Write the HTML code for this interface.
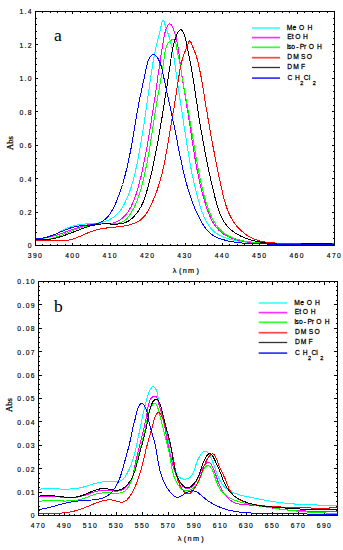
<!DOCTYPE html>
<html><head><meta charset="utf-8"><style>
html,body{margin:0;padding:0;background:#fff;width:343px;height:550px;overflow:hidden}
svg{display:block}
.t{font-family:"Liberation Sans", sans-serif;font-size:7.3px;letter-spacing:0.85px;fill:#000;stroke:#000;stroke-width:0.2px}
.lg{font-family:"Liberation Sans", sans-serif;font-size:7.3px;fill:#000;stroke:#000;stroke-width:0.25px}
.n{font-family:"Liberation Sans", sans-serif;font-size:8px;letter-spacing:1.6px;fill:#000;stroke:#000;stroke-width:0.18px}
.ab{font-family:"Liberation Serif", serif;font-size:8.7px;fill:#000;stroke:#000;stroke-width:0.25px}
.big{font-family:"Liberation Serif", serif;font-size:17.5px;fill:#000}
</style></head><body>
<svg width="343" height="550" viewBox="0 0 343 550">
<path d="M35.5,245 v-2 M35.5,12 v2 M42.5,245 v-1 M42.5,12 v1 M50.5,245 v-1 M50.5,12 v1 M57.5,245 v-1 M57.5,12 v1 M65.5,245 v-1 M65.5,12 v1 M72.5,245 v-2 M72.5,12 v2 M80.5,245 v-1 M80.5,12 v1 M87.5,245 v-1 M87.5,12 v1 M95.5,245 v-1 M95.5,12 v1 M102.5,245 v-1 M102.5,12 v1 M110.5,245 v-2 M110.5,12 v2 M117.5,245 v-1 M117.5,12 v1 M125.5,245 v-1 M125.5,12 v1 M132.5,245 v-1 M132.5,12 v1 M140.5,245 v-1 M140.5,12 v1 M147.5,245 v-2 M147.5,12 v2 M155.5,245 v-1 M155.5,12 v1 M162.5,245 v-1 M162.5,12 v1 M170.5,245 v-1 M170.5,12 v1 M177.5,245 v-1 M177.5,12 v1 M185.5,245 v-2 M185.5,12 v2 M192.5,245 v-1 M192.5,12 v1 M199.5,245 v-1 M199.5,12 v1 M207.5,245 v-1 M207.5,12 v1 M214.5,245 v-1 M214.5,12 v1 M222.5,245 v-2 M222.5,12 v2 M229.5,245 v-1 M229.5,12 v1 M237.5,245 v-1 M237.5,12 v1 M244.5,245 v-1 M244.5,12 v1 M252.5,245 v-1 M252.5,12 v1 M259.5,245 v-2 M259.5,12 v2 M267.5,245 v-1 M267.5,12 v1 M274.5,245 v-1 M274.5,12 v1 M282.5,245 v-1 M282.5,12 v1 M289.5,245 v-1 M289.5,12 v1 M297.5,245 v-2 M297.5,12 v2 M304.5,245 v-1 M304.5,12 v1 M312.5,245 v-1 M312.5,12 v1 M319.5,245 v-1 M319.5,12 v1 M327.5,245 v-1 M327.5,12 v1 M334.5,245 v-2 M334.5,12 v2 M36,245.5 h2 M334,245.5 h-2 M36,238.5 h1 M334,238.5 h-1 M36,232.5 h1 M334,232.5 h-1 M36,225.5 h1 M334,225.5 h-1 M36,218.5 h1 M334,218.5 h-1 M36,212.5 h2 M334,212.5 h-2 M36,205.5 h1 M334,205.5 h-1 M36,198.5 h1 M334,198.5 h-1 M36,192.5 h1 M334,192.5 h-1 M36,185.5 h1 M334,185.5 h-1 M36,178.5 h2 M334,178.5 h-2 M36,171.5 h1 M334,171.5 h-1 M36,165.5 h1 M334,165.5 h-1 M36,158.5 h1 M334,158.5 h-1 M36,151.5 h1 M334,151.5 h-1 M36,145.5 h2 M334,145.5 h-2 M36,138.5 h1 M334,138.5 h-1 M36,131.5 h1 M334,131.5 h-1 M36,125.5 h1 M334,125.5 h-1 M36,118.5 h1 M334,118.5 h-1 M36,111.5 h2 M334,111.5 h-2 M36,105.5 h1 M334,105.5 h-1 M36,98.5 h1 M334,98.5 h-1 M36,91.5 h1 M334,91.5 h-1 M36,85.5 h1 M334,85.5 h-1 M36,78.5 h2 M334,78.5 h-2 M36,71.5 h1 M334,71.5 h-1 M36,64.5 h1 M334,64.5 h-1 M36,58.5 h1 M334,58.5 h-1 M36,51.5 h1 M334,51.5 h-1 M36,44.5 h2 M334,44.5 h-2 M36,38.5 h1 M334,38.5 h-1 M36,31.5 h1 M334,31.5 h-1 M36,24.5 h1 M334,24.5 h-1 M36,18.5 h1 M334,18.5 h-1 M36,11.5 h2 M334,11.5 h-2" stroke="#000" stroke-width="1" fill="none" shape-rendering="crispEdges"/>
<path d="M38.5,515 v-3 M38.5,282 v3 M43.5,515 v-1 M43.5,282 v1 M48.5,515 v-1 M48.5,282 v1 M54.5,515 v-1 M54.5,282 v1 M59.5,515 v-1 M59.5,282 v1 M64.5,515 v-3 M64.5,282 v3 M69.5,515 v-1 M69.5,282 v1 M74.5,515 v-1 M74.5,282 v1 M80.5,515 v-1 M80.5,282 v1 M85.5,515 v-1 M85.5,282 v1 M90.5,515 v-3 M90.5,282 v3 M95.5,515 v-1 M95.5,282 v1 M100.5,515 v-1 M100.5,282 v1 M106.5,515 v-1 M106.5,282 v1 M111.5,515 v-1 M111.5,282 v1 M116.5,515 v-3 M116.5,282 v3 M121.5,515 v-1 M121.5,282 v1 M126.5,515 v-1 M126.5,282 v1 M132.5,515 v-1 M132.5,282 v1 M137.5,515 v-1 M137.5,282 v1 M142.5,515 v-3 M142.5,282 v3 M147.5,515 v-1 M147.5,282 v1 M152.5,515 v-1 M152.5,282 v1 M158.5,515 v-1 M158.5,282 v1 M163.5,515 v-1 M163.5,282 v1 M168.5,515 v-3 M168.5,282 v3 M173.5,515 v-1 M173.5,282 v1 M178.5,515 v-1 M178.5,282 v1 M184.5,515 v-1 M184.5,282 v1 M189.5,515 v-1 M189.5,282 v1 M194.5,515 v-3 M194.5,282 v3 M199.5,515 v-1 M199.5,282 v1 M204.5,515 v-1 M204.5,282 v1 M210.5,515 v-1 M210.5,282 v1 M215.5,515 v-1 M215.5,282 v1 M220.5,515 v-3 M220.5,282 v3 M225.5,515 v-1 M225.5,282 v1 M230.5,515 v-1 M230.5,282 v1 M236.5,515 v-1 M236.5,282 v1 M241.5,515 v-1 M241.5,282 v1 M246.5,515 v-3 M246.5,282 v3 M251.5,515 v-1 M251.5,282 v1 M256.5,515 v-1 M256.5,282 v1 M262.5,515 v-1 M262.5,282 v1 M267.5,515 v-1 M267.5,282 v1 M272.5,515 v-3 M272.5,282 v3 M277.5,515 v-1 M277.5,282 v1 M282.5,515 v-1 M282.5,282 v1 M288.5,515 v-1 M288.5,282 v1 M293.5,515 v-1 M293.5,282 v1 M298.5,515 v-3 M298.5,282 v3 M303.5,515 v-1 M303.5,282 v1 M308.5,515 v-1 M308.5,282 v1 M314.5,515 v-1 M314.5,282 v1 M319.5,515 v-1 M319.5,282 v1 M324.5,515 v-3 M324.5,282 v3 M329.5,515 v-1 M329.5,282 v1 M334.5,515 v-1 M334.5,282 v1 M39,515.5 h3 M337,515.5 h-3 M39,510.5 h1 M337,510.5 h-1 M39,506.5 h1 M337,506.5 h-1 M39,501.5 h1 M337,501.5 h-1 M39,496.5 h1 M337,496.5 h-1 M39,492.5 h3 M337,492.5 h-3 M39,487.5 h1 M337,487.5 h-1 M39,482.5 h1 M337,482.5 h-1 M39,478.5 h1 M337,478.5 h-1 M39,473.5 h1 M337,473.5 h-1 M39,468.5 h3 M337,468.5 h-3 M39,464.5 h1 M337,464.5 h-1 M39,459.5 h1 M337,459.5 h-1 M39,454.5 h1 M337,454.5 h-1 M39,449.5 h1 M337,449.5 h-1 M39,445.5 h3 M337,445.5 h-3 M39,440.5 h1 M337,440.5 h-1 M39,435.5 h1 M337,435.5 h-1 M39,431.5 h1 M337,431.5 h-1 M39,426.5 h1 M337,426.5 h-1 M39,421.5 h3 M337,421.5 h-3 M39,417.5 h1 M337,417.5 h-1 M39,412.5 h1 M337,412.5 h-1 M39,407.5 h1 M337,407.5 h-1 M39,403.5 h1 M337,403.5 h-1 M39,398.5 h3 M337,398.5 h-3 M39,393.5 h1 M337,393.5 h-1 M39,389.5 h1 M337,389.5 h-1 M39,384.5 h1 M337,384.5 h-1 M39,379.5 h1 M337,379.5 h-1 M39,375.5 h3 M337,375.5 h-3 M39,370.5 h1 M337,370.5 h-1 M39,365.5 h1 M337,365.5 h-1 M39,361.5 h1 M337,361.5 h-1 M39,356.5 h1 M337,356.5 h-1 M39,351.5 h3 M337,351.5 h-3 M39,347.5 h1 M337,347.5 h-1 M39,342.5 h1 M337,342.5 h-1 M39,337.5 h1 M337,337.5 h-1 M39,332.5 h1 M337,332.5 h-1 M39,328.5 h3 M337,328.5 h-3 M39,323.5 h1 M337,323.5 h-1 M39,318.5 h1 M337,318.5 h-1 M39,314.5 h1 M337,314.5 h-1 M39,309.5 h1 M337,309.5 h-1 M39,304.5 h3 M337,304.5 h-3 M39,300.5 h1 M337,300.5 h-1 M39,295.5 h1 M337,295.5 h-1 M39,290.5 h1 M337,290.5 h-1 M39,286.5 h1 M337,286.5 h-1 M39,281.5 h3 M337,281.5 h-3" stroke="#000" stroke-width="1" fill="none" shape-rendering="crispEdges"/>
<path d="M35.5,237.9 L36.9,238.2 L38.2,238.4 L39.5,238.5 L40.8,238.5 L42.1,238.4 L43.3,238.3 L44.5,238.2 L45.7,237.9 L46.9,237.6 L48.1,237.3 L49.3,236.9 L50.4,236.5 L51.6,236.0 L52.7,235.5 L53.8,235.0 L54.9,234.5 L56.1,233.9 L57.2,233.3 L58.3,232.7 L59.4,232.1 L60.5,231.5 L61.6,230.9 L62.7,230.3 L63.8,229.7 L64.9,229.1 L66.1,228.6 L67.2,228.0 L68.3,227.5 L69.5,227.1 L70.7,226.6 L71.8,226.2 L73.0,225.9 L74.2,225.5 L75.5,225.3 L76.7,225.0 L77.9,224.8 L79.2,224.6 L80.4,224.4 L81.7,224.3 L82.9,224.2 L84.2,224.1 L85.5,224.0 L86.7,223.9 L88.0,223.8 L89.3,223.7 L90.5,223.6 L91.8,223.5 L93.1,223.5 L94.3,223.4 L95.5,223.2 L96.8,223.1 L98.0,223.0 L99.2,222.8 L100.4,222.6 L101.6,222.4 L102.7,222.1 L103.9,221.8 L105.0,221.5 L106.1,221.1 L107.2,220.7 L108.3,220.2 L109.3,219.7 L110.3,219.2 L111.3,218.6 L112.3,218.0 L113.3,217.4 L114.2,216.7 L115.2,215.9 L116.0,215.2 L116.9,214.3 L117.8,213.5 L118.6,212.6 L119.4,211.6 L120.1,210.6 L120.9,209.6 L121.6,208.5 L122.3,207.4 L122.9,206.3 L123.6,205.2 L124.2,204.0 L124.8,202.8 L125.4,201.7 L125.9,200.5 L126.5,199.3 L127.0,198.2 L127.5,197.0 L128.0,195.8 L128.5,194.7 L128.9,193.5 L129.4,192.3 L129.8,191.1 L130.2,190.0 L130.6,188.8 L131.0,187.6 L131.4,186.4 L131.7,185.2 L132.1,184.1 L132.4,182.9 L132.8,181.7 L133.1,180.5 L133.4,179.3 L133.7,178.1 L134.0,176.9 L134.3,175.8 L134.6,174.6 L134.9,173.4 L135.2,172.2 L135.4,171.0 L135.7,169.8 L136.0,168.6 L136.2,167.4 L136.5,166.2 L136.7,165.0 L137.0,163.8 L137.2,162.6 L137.5,161.3 L137.7,160.1 L138.0,158.9 L138.2,157.7 L138.4,156.5 L138.7,155.3 L138.9,154.1 L139.1,152.8 L139.4,151.6 L139.6,150.4 L139.8,149.2 L140.0,147.9 L140.2,146.7 L140.5,145.5 L140.7,144.3 L140.9,143.0 L141.1,141.8 L141.3,140.6 L141.5,139.3 L141.7,138.1 L141.9,136.9 L142.1,135.6 L142.3,134.4 L142.5,133.2 L142.7,131.9 L142.9,130.7 L143.1,129.5 L143.3,128.2 L143.5,127.0 L143.7,125.7 L143.9,124.5 L144.1,123.3 L144.2,122.0 L144.4,120.8 L144.6,119.5 L144.8,118.3 L145.0,117.0 L145.2,115.8 L145.3,114.6 L145.5,113.3 L145.7,112.1 L145.9,110.8 L146.1,109.6 L146.2,108.3 L146.4,107.1 L146.6,105.9 L146.8,104.6 L146.9,103.4 L147.1,102.1 L147.3,100.9 L147.5,99.6 L147.7,98.4 L147.8,97.2 L148.0,95.9 L148.2,94.7 L148.4,93.4 L148.5,92.2 L148.7,90.9 L148.9,89.7 L149.1,88.5 L149.2,87.2 L149.4,86.0 L149.6,84.8 L149.8,83.5 L150.0,82.3 L150.1,81.0 L150.3,79.8 L150.5,78.6 L150.7,77.3 L150.9,76.1 L151.0,74.9 L151.2,73.7 L151.4,72.4 L151.6,71.2 L151.8,70.0 L152.0,68.7 L152.2,67.5 L152.4,66.3 L152.6,65.1 L152.8,63.8 L153.0,62.6 L153.2,61.4 L153.5,60.2 L153.7,59.0 L153.9,57.7 L154.1,56.5 L154.4,55.3 L154.6,54.1 L154.8,52.9 L155.1,51.7 L155.3,50.5 L155.6,49.3 L155.9,48.0 L156.1,46.8 L156.4,45.6 L156.7,44.4 L156.9,43.2 L157.2,42.0 L157.5,40.8 L157.8,39.6 L158.1,38.4 L158.4,37.2 L158.8,36.0 L159.1,34.7 L159.4,33.4 L159.7,32.1 L160.0,30.8 L160.4,29.4 L160.7,28.0 L161.0,26.6 L161.3,25.0 L161.7,23.6 L162.0,22.2 L162.3,21.1 L162.7,20.3 L163.0,19.9 L163.4,20.1 L163.8,20.8 L164.2,21.8 L164.6,23.0 L165.0,24.5 L165.5,25.9 L165.9,27.4 L166.4,28.7 L166.8,30.1 L167.2,31.3 L167.7,32.6 L168.1,33.8 L168.5,35.0 L168.9,36.2 L169.3,37.4 L169.7,38.7 L170.0,39.9 L170.4,41.1 L170.7,42.3 L171.0,43.5 L171.3,44.7 L171.6,45.9 L171.9,47.1 L172.1,48.3 L172.4,49.6 L172.7,50.8 L172.9,52.0 L173.1,53.2 L173.4,54.4 L173.6,55.6 L173.8,56.8 L174.0,58.0 L174.2,59.3 L174.4,60.5 L174.6,61.7 L174.8,62.9 L174.9,64.1 L175.1,65.4 L175.3,66.6 L175.4,67.8 L175.6,69.1 L175.8,70.3 L175.9,71.5 L176.1,72.7 L176.3,74.0 L176.4,75.2 L176.6,76.5 L176.8,77.7 L177.0,78.9 L177.1,80.2 L177.3,81.4 L177.5,82.7 L177.7,83.9 L177.8,85.1 L178.0,86.4 L178.2,87.6 L178.4,88.9 L178.6,90.1 L178.8,91.4 L179.0,92.6 L179.2,93.8 L179.3,95.1 L179.5,96.3 L179.7,97.6 L179.9,98.8 L180.1,100.1 L180.3,101.3 L180.5,102.6 L180.7,103.8 L180.9,105.1 L181.1,106.3 L181.3,107.6 L181.5,108.8 L181.7,110.0 L181.9,111.3 L182.1,112.5 L182.3,113.8 L182.4,115.0 L182.6,116.2 L182.8,117.5 L183.0,118.7 L183.2,119.9 L183.4,121.2 L183.6,122.4 L183.8,123.6 L183.9,124.9 L184.1,126.1 L184.3,127.3 L184.5,128.6 L184.7,129.8 L184.9,131.0 L185.0,132.3 L185.2,133.5 L185.4,134.7 L185.6,135.9 L185.8,137.2 L186.0,138.4 L186.2,139.6 L186.3,140.8 L186.5,142.0 L186.7,143.3 L186.9,144.5 L187.1,145.7 L187.3,146.9 L187.5,148.1 L187.7,149.4 L187.9,150.6 L188.1,151.8 L188.3,153.0 L188.5,154.2 L188.7,155.5 L188.9,156.7 L189.1,157.9 L189.3,159.1 L189.5,160.3 L189.7,161.6 L189.9,162.8 L190.2,164.0 L190.4,165.2 L190.6,166.4 L190.8,167.7 L191.1,168.9 L191.3,170.1 L191.5,171.3 L191.8,172.5 L192.0,173.8 L192.3,175.0 L192.5,176.2 L192.8,177.4 L193.1,178.7 L193.3,179.9 L193.6,181.1 L193.9,182.3 L194.1,183.6 L194.4,184.8 L194.7,186.0 L195.0,187.2 L195.3,188.5 L195.6,189.7 L195.9,190.9 L196.2,192.2 L196.5,193.4 L196.9,194.6 L197.2,195.9 L197.5,197.1 L197.9,198.3 L198.2,199.6 L198.6,200.8 L198.9,202.0 L199.3,203.3 L199.7,204.5 L200.0,205.8 L200.4,207.0 L200.8,208.2 L201.2,209.5 L201.6,210.7 L202.1,211.9 L202.5,213.1 L203.0,214.3 L203.5,215.5 L204.0,216.6 L204.5,217.8 L205.0,218.9 L205.5,220.0 L206.1,221.1 L206.7,222.2 L207.3,223.2 L208.0,224.2 L208.6,225.2 L209.3,226.2 L210.0,227.2 L210.8,228.1 L211.5,229.0 L212.3,229.8 L213.1,230.6 L214.0,231.4 L214.9,232.2 L215.8,232.9 L216.8,233.6 L217.7,234.2 L218.8,234.8 L219.8,235.4 L220.9,235.9 L221.9,236.5 L223.0,236.9 L224.2,237.4 L225.3,237.8 L226.5,238.2 L227.7,238.6 L228.9,239.0 L230.1,239.3 L231.3,239.7 L232.5,239.9 L233.8,240.2 L235.0,240.5 L236.3,240.7 L237.6,241.0 L238.9,241.2 L240.1,241.4 L241.4,241.6 L242.7,241.7 L244.0,241.9 L245.3,242.0 L246.6,242.2 L247.9,242.3 L249.2,242.4 L250.4,242.6 L251.7,242.7 L253.0,242.8 L254.3,242.9 L255.5,243.0 L256.8,243.1 L258.1,243.1 L259.3,243.2 L260.6,243.3 L261.8,243.3 L263.1,243.4 L264.3,243.5 L265.6,243.5 L266.8,243.5 L268.1,243.6 L269.3,243.6 L270.6,243.6 L271.8,243.7 L273.1,243.7 L274.3,243.7 L275.5,243.7 L276.8,243.7 L278.0,243.7 L279.2,243.7 L280.5,243.7 L281.7,243.7 L282.9,243.7 L284.2,243.7 L285.4,243.7 L286.6,243.7 L287.9,243.7 L289.1,243.7 L290.3,243.6 L291.6,243.6 L292.8,243.6 L294.0,243.6 L295.2,243.6 L296.5,243.5 L297.7,243.5 L298.9,243.5 L300.2,243.5 L301.4,243.4 L302.6,243.4 L303.9,243.4 L305.1,243.4 L306.3,243.4 L307.6,243.4 L308.8,243.3 L310.1,243.3 L311.3,243.3 L312.5,243.3 L313.8,243.3 L315.0,243.3 L316.3,243.3 L317.5,243.3 L318.8,243.3 L320.0,243.3 L321.3,243.3 L322.6,243.3 L323.8,243.3 L325.1,243.3 L326.3,243.4 L327.6,243.4 L328.9,243.4 L330.2,243.5 L331.4,243.5 L332.7,243.5 L334.0,243.6" stroke="#00ffff" stroke-width="1" fill="none" shape-rendering="crispEdges"/>
<path d="M38.5,489.2 L39.7,489.1 L41.0,489.0 L42.2,488.9 L43.5,488.8 L44.7,488.8 L45.9,488.8 L47.2,488.7 L48.4,488.7 L49.7,488.7 L50.9,488.7 L52.2,488.8 L53.4,488.8 L54.7,488.8 L56.0,488.9 L57.2,488.9 L58.5,488.9 L59.7,489.0 L61.0,489.0 L62.2,489.0 L63.5,489.0 L64.7,489.0 L66.0,489.0 L67.2,489.0 L68.4,489.0 L69.7,489.0 L70.9,488.9 L72.1,488.8 L73.4,488.7 L74.6,488.6 L75.8,488.5 L77.1,488.3 L78.3,488.1 L79.5,487.9 L80.7,487.7 L81.9,487.4 L83.1,487.1 L84.3,486.8 L85.5,486.5 L86.7,486.1 L87.8,485.7 L89.0,485.4 L90.2,485.0 L91.4,484.6 L92.6,484.2 L93.8,483.9 L95.0,483.5 L96.2,483.2 L97.4,482.9 L98.6,482.6 L99.8,482.3 L101.0,482.1 L102.2,481.9 L103.4,481.7 L104.6,481.6 L105.9,481.5 L107.1,481.5 L108.4,481.5 L109.6,481.6 L110.9,481.6 L112.1,481.7 L113.3,481.8 L114.5,481.8 L115.7,481.8 L116.9,481.7 L118.0,481.5 L119.1,481.3 L120.2,480.9 L121.2,480.5 L122.1,479.9 L123.0,479.1 L123.9,478.2 L124.7,477.3 L125.4,476.2 L126.1,475.1 L126.8,473.9 L127.5,472.7 L128.1,471.4 L128.7,470.2 L129.2,469.0 L129.8,467.7 L130.3,466.5 L130.8,465.3 L131.2,464.1 L131.7,462.9 L132.1,461.7 L132.5,460.5 L132.9,459.3 L133.3,458.1 L133.6,456.9 L134.0,455.7 L134.3,454.5 L134.6,453.3 L134.9,452.2 L135.2,451.0 L135.5,449.8 L135.8,448.6 L136.1,447.5 L136.3,446.3 L136.6,445.1 L136.9,443.9 L137.1,442.7 L137.3,441.5 L137.6,440.4 L137.8,439.2 L138.1,438.0 L138.3,436.8 L138.6,435.6 L138.8,434.4 L139.1,433.1 L139.3,431.9 L139.6,430.7 L139.8,429.5 L140.1,428.3 L140.3,427.1 L140.6,425.8 L140.8,424.6 L141.1,423.4 L141.3,422.2 L141.6,420.9 L141.9,419.7 L142.1,418.5 L142.4,417.2 L142.7,416.0 L142.9,414.8 L143.2,413.5 L143.5,412.3 L143.8,411.1 L144.1,409.8 L144.3,408.6 L144.6,407.4 L144.9,406.1 L145.2,404.9 L145.5,403.7 L145.8,402.4 L146.2,401.2 L146.5,400.0 L146.8,398.7 L147.2,397.5 L147.5,396.3 L147.9,395.0 L148.4,393.8 L148.9,392.6 L149.4,391.4 L150.0,390.2 L150.6,389.0 L151.3,388.0 L152.0,387.2 L152.7,386.7 L153.5,386.7 L154.3,387.0 L155.0,387.8 L155.7,388.7 L156.2,389.9 L156.7,391.3 L157.2,392.8 L157.5,394.3 L157.9,395.8 L158.1,397.3 L158.4,398.7 L158.6,400.0 L158.8,401.3 L159.0,402.5 L159.2,403.7 L159.4,404.9 L159.7,406.0 L159.9,407.2 L160.2,408.4 L160.4,409.6 L160.7,410.7 L161.0,411.9 L161.3,413.1 L161.6,414.3 L161.9,415.5 L162.2,416.7 L162.5,417.9 L162.8,419.1 L163.1,420.4 L163.5,421.6 L163.8,422.8 L164.1,424.0 L164.4,425.3 L164.8,426.5 L165.1,427.7 L165.4,428.9 L165.7,430.2 L166.0,431.4 L166.3,432.6 L166.6,433.9 L166.9,435.1 L167.2,436.3 L167.5,437.5 L167.8,438.7 L168.0,439.9 L168.3,441.1 L168.5,442.3 L168.8,443.5 L169.0,444.7 L169.2,445.9 L169.4,447.1 L169.6,448.3 L169.8,449.5 L170.0,450.7 L170.2,451.8 L170.5,453.0 L170.7,454.2 L170.9,455.4 L171.2,456.7 L171.4,457.9 L171.7,459.1 L172.0,460.4 L172.3,461.6 L172.6,462.9 L173.0,464.2 L173.3,465.5 L173.7,466.8 L174.2,468.1 L174.6,469.4 L175.1,470.6 L175.7,471.8 L176.2,473.0 L176.9,474.1 L177.6,475.2 L178.3,476.1 L179.1,476.9 L180.0,477.6 L180.9,478.2 L182.0,478.7 L183.0,479.0 L184.1,479.2 L185.2,479.2 L186.3,479.0 L187.4,478.8 L188.4,478.3 L189.4,477.8 L190.3,477.1 L191.1,476.2 L191.8,475.2 L192.4,474.2 L193.0,473.0 L193.6,471.8 L194.1,470.5 L194.5,469.2 L195.0,467.9 L195.4,466.5 L195.8,465.2 L196.2,463.9 L196.7,462.7 L197.1,461.5 L197.6,460.3 L198.1,459.2 L198.7,458.0 L199.3,456.9 L200.0,455.8 L200.7,454.7 L201.5,453.7 L202.3,452.8 L203.2,452.0 L204.1,451.4 L205.0,451.1 L205.8,451.1 L206.7,451.5 L207.4,452.1 L208.2,453.0 L208.9,454.0 L209.6,455.0 L210.2,456.1 L210.8,457.2 L211.3,458.3 L211.8,459.5 L212.3,460.6 L212.8,461.8 L213.2,463.0 L213.7,464.2 L214.1,465.5 L214.5,466.7 L215.0,467.9 L215.4,469.2 L215.8,470.4 L216.3,471.7 L216.7,472.9 L217.2,474.1 L217.6,475.3 L218.1,476.5 L218.6,477.7 L219.1,478.8 L219.7,480.0 L220.3,481.1 L220.9,482.1 L221.5,483.2 L222.2,484.2 L222.9,485.1 L223.6,486.0 L224.4,486.9 L225.2,487.7 L226.1,488.5 L227.0,489.2 L228.0,489.9 L228.9,490.5 L230.0,491.1 L231.0,491.7 L232.1,492.2 L233.2,492.7 L234.3,493.2 L235.5,493.6 L236.6,494.0 L237.8,494.4 L239.1,494.8 L240.3,495.1 L241.5,495.4 L242.8,495.7 L244.0,496.0 L245.3,496.3 L246.6,496.6 L247.8,496.8 L249.1,497.1 L250.4,497.3 L251.6,497.6 L252.9,497.8 L254.1,498.0 L255.4,498.3 L256.6,498.5 L257.8,498.8 L259.1,499.0 L260.3,499.2 L261.5,499.5 L262.7,499.7 L264.0,499.9 L265.2,500.2 L266.4,500.4 L267.6,500.6 L268.8,500.8 L270.0,501.0 L271.2,501.2 L272.4,501.4 L273.6,501.6 L274.8,501.8 L276.1,502.0 L277.3,502.2 L278.5,502.3 L279.7,502.5 L280.9,502.6 L282.1,502.8 L283.4,502.9 L284.6,503.1 L285.8,503.2 L287.1,503.3 L288.3,503.4 L289.6,503.6 L290.8,503.7 L292.0,503.8 L293.3,503.9 L294.5,504.0 L295.8,504.0 L297.0,504.1 L298.3,504.2 L299.5,504.3 L300.8,504.4 L302.1,504.4 L303.3,504.5 L304.6,504.5 L305.8,504.6 L307.1,504.6 L308.3,504.7 L309.6,504.7 L310.8,504.8 L312.1,504.8 L313.4,504.9 L314.6,504.9 L315.9,504.9 L317.1,505.0 L318.4,505.0 L319.6,505.0 L320.9,505.1 L322.1,505.1 L323.4,505.1 L324.6,505.1 L325.9,505.2 L327.1,505.2 L328.4,505.2 L329.6,505.2 L330.8,505.3 L332.1,505.3 L333.3,505.3 L334.5,505.3 L335.8,505.4 L337.0,505.4" stroke="#00ffff" stroke-width="1" fill="none" shape-rendering="crispEdges"/>
<path d="M35.5,238.5 L36.8,238.5 L38.0,238.5 L39.3,238.4 L40.5,238.3 L41.8,238.2 L43.0,238.1 L44.2,237.9 L45.5,237.7 L46.7,237.5 L47.9,237.3 L49.1,237.0 L50.3,236.8 L51.6,236.5 L52.8,236.1 L54.0,235.8 L55.2,235.5 L56.4,235.1 L57.6,234.7 L58.7,234.4 L59.9,234.0 L61.1,233.6 L62.3,233.2 L63.5,232.7 L64.7,232.3 L65.8,231.9 L67.0,231.5 L68.2,231.0 L69.4,230.6 L70.5,230.2 L71.7,229.8 L72.9,229.3 L74.0,228.9 L75.2,228.5 L76.4,228.1 L77.5,227.7 L78.7,227.3 L79.9,227.0 L81.0,226.6 L82.2,226.2 L83.4,225.9 L84.6,225.6 L85.8,225.3 L87.0,225.1 L88.2,224.8 L89.4,224.6 L90.7,224.4 L91.9,224.2 L93.1,224.1 L94.4,224.0 L95.7,223.9 L96.9,223.8 L98.2,223.8 L99.5,223.8 L100.8,223.8 L102.1,223.8 L103.4,223.8 L104.7,223.8 L106.0,223.8 L107.3,223.8 L108.5,223.7 L109.8,223.6 L111.0,223.4 L112.2,223.2 L113.4,222.9 L114.6,222.6 L115.7,222.2 L116.8,221.7 L117.9,221.1 L118.9,220.6 L120.0,219.9 L121.0,219.2 L121.9,218.5 L122.8,217.7 L123.7,216.8 L124.6,216.0 L125.5,215.1 L126.3,214.1 L127.0,213.1 L127.8,212.1 L128.5,211.1 L129.1,210.0 L129.8,208.9 L130.4,207.8 L131.0,206.7 L131.5,205.6 L132.1,204.4 L132.6,203.2 L133.1,202.1 L133.6,200.9 L134.0,199.7 L134.5,198.6 L134.9,197.4 L135.4,196.2 L135.8,195.0 L136.2,193.9 L136.6,192.7 L136.9,191.5 L137.3,190.3 L137.7,189.1 L138.0,188.0 L138.4,186.8 L138.7,185.6 L139.0,184.4 L139.3,183.2 L139.6,182.0 L139.9,180.8 L140.2,179.7 L140.5,178.5 L140.8,177.3 L141.1,176.1 L141.4,174.9 L141.6,173.7 L141.9,172.5 L142.2,171.3 L142.4,170.1 L142.7,168.9 L142.9,167.7 L143.2,166.4 L143.4,165.2 L143.7,164.0 L143.9,162.8 L144.2,161.6 L144.4,160.4 L144.7,159.1 L144.9,157.9 L145.1,156.7 L145.4,155.5 L145.6,154.2 L145.8,153.0 L146.1,151.8 L146.3,150.6 L146.5,149.3 L146.7,148.1 L147.0,146.9 L147.2,145.6 L147.4,144.4 L147.6,143.1 L147.9,141.9 L148.1,140.7 L148.3,139.4 L148.5,138.2 L148.7,136.9 L148.9,135.7 L149.1,134.5 L149.3,133.2 L149.5,132.0 L149.8,130.7 L150.0,129.5 L150.2,128.3 L150.4,127.0 L150.6,125.8 L150.8,124.5 L151.0,123.3 L151.2,122.0 L151.4,120.8 L151.6,119.6 L151.7,118.3 L151.9,117.1 L152.1,115.8 L152.3,114.6 L152.5,113.3 L152.7,112.1 L152.9,110.9 L153.1,109.6 L153.3,108.4 L153.4,107.2 L153.6,105.9 L153.8,104.7 L154.0,103.5 L154.2,102.2 L154.4,101.0 L154.5,99.8 L154.7,98.5 L154.9,97.3 L155.1,96.1 L155.3,94.9 L155.4,93.6 L155.6,92.4 L155.8,91.2 L156.0,90.0 L156.1,88.8 L156.3,87.5 L156.5,86.3 L156.7,85.1 L156.8,83.9 L157.0,82.7 L157.2,81.5 L157.4,80.3 L157.5,79.1 L157.7,77.9 L157.9,76.7 L158.0,75.5 L158.2,74.3 L158.4,73.1 L158.6,71.9 L158.7,70.6 L158.9,69.4 L159.1,68.2 L159.3,67.0 L159.5,65.8 L159.6,64.6 L159.8,63.3 L160.0,62.1 L160.2,60.9 L160.4,59.6 L160.6,58.4 L160.8,57.1 L160.9,55.9 L161.1,54.6 L161.3,53.3 L161.5,52.1 L161.7,50.8 L161.9,49.5 L162.1,48.2 L162.4,46.9 L162.6,45.6 L162.8,44.3 L163.0,42.9 L163.2,41.6 L163.5,40.2 L163.7,38.9 L163.9,37.5 L164.2,36.1 L164.5,34.8 L164.8,33.5 L165.1,32.1 L165.5,30.9 L165.9,29.6 L166.4,28.4 L166.9,27.2 L167.4,26.1 L168.0,25.2 L168.6,24.5 L169.2,24.0 L169.9,23.9 L170.5,24.1 L171.1,24.6 L171.7,25.4 L172.3,26.4 L172.8,27.5 L173.4,28.9 L173.9,30.3 L174.4,31.8 L174.8,33.3 L175.3,34.8 L175.7,36.3 L176.1,37.8 L176.4,39.1 L176.7,40.5 L177.0,41.8 L177.3,43.2 L177.6,44.4 L177.8,45.7 L178.0,46.9 L178.2,48.1 L178.4,49.3 L178.6,50.5 L178.7,51.7 L178.9,52.9 L179.0,54.0 L179.2,55.2 L179.3,56.3 L179.5,57.5 L179.6,58.7 L179.7,59.9 L179.9,61.1 L180.1,62.3 L180.2,63.5 L180.4,64.7 L180.5,65.9 L180.7,67.1 L180.9,68.4 L181.0,69.6 L181.2,70.9 L181.4,72.1 L181.6,73.3 L181.7,74.6 L181.9,75.8 L182.1,77.1 L182.3,78.3 L182.5,79.6 L182.7,80.8 L182.9,82.1 L183.1,83.3 L183.3,84.6 L183.5,85.8 L183.7,87.1 L183.9,88.3 L184.1,89.5 L184.3,90.8 L184.5,92.0 L184.7,93.3 L184.9,94.5 L185.1,95.8 L185.3,97.0 L185.5,98.2 L185.7,99.5 L185.9,100.7 L186.1,102.0 L186.3,103.2 L186.5,104.5 L186.7,105.7 L186.9,106.9 L187.1,108.2 L187.4,109.4 L187.6,110.6 L187.8,111.9 L188.0,113.1 L188.2,114.3 L188.4,115.6 L188.6,116.8 L188.8,118.0 L188.9,119.3 L189.1,120.5 L189.3,121.7 L189.5,123.0 L189.7,124.2 L189.9,125.4 L190.1,126.6 L190.3,127.9 L190.5,129.1 L190.6,130.3 L190.8,131.5 L191.0,132.8 L191.2,134.0 L191.4,135.2 L191.6,136.4 L191.8,137.7 L191.9,138.9 L192.1,140.1 L192.3,141.3 L192.5,142.5 L192.7,143.8 L192.9,145.0 L193.1,146.2 L193.3,147.4 L193.4,148.7 L193.6,149.9 L193.8,151.1 L194.0,152.3 L194.2,153.5 L194.4,154.7 L194.6,156.0 L194.8,157.2 L195.0,158.4 L195.3,159.6 L195.5,160.8 L195.7,162.1 L195.9,163.3 L196.1,164.5 L196.3,165.7 L196.6,166.9 L196.8,168.2 L197.0,169.4 L197.3,170.6 L197.5,171.8 L197.7,173.0 L198.0,174.3 L198.2,175.5 L198.5,176.7 L198.8,177.9 L199.0,179.1 L199.3,180.4 L199.6,181.6 L199.8,182.8 L200.1,184.0 L200.4,185.3 L200.7,186.5 L201.0,187.7 L201.3,188.9 L201.6,190.2 L201.9,191.4 L202.2,192.6 L202.6,193.8 L202.9,195.1 L203.2,196.3 L203.6,197.5 L203.9,198.8 L204.3,200.0 L204.6,201.2 L205.0,202.5 L205.4,203.7 L205.8,204.9 L206.1,206.2 L206.5,207.4 L207.0,208.6 L207.4,209.8 L207.8,211.0 L208.3,212.2 L208.7,213.4 L209.2,214.6 L209.7,215.8 L210.2,216.9 L210.7,218.1 L211.3,219.2 L211.8,220.3 L212.4,221.4 L213.0,222.4 L213.7,223.5 L214.3,224.5 L215.0,225.5 L215.7,226.5 L216.4,227.4 L217.2,228.3 L218.0,229.2 L218.8,230.1 L219.6,230.9 L220.5,231.7 L221.4,232.4 L222.4,233.1 L223.3,233.8 L224.3,234.5 L225.3,235.1 L226.4,235.7 L227.4,236.3 L228.5,236.8 L229.6,237.3 L230.8,237.8 L231.9,238.2 L233.1,238.7 L234.3,239.1 L235.5,239.4 L236.7,239.8 L237.9,240.1 L239.1,240.5 L240.4,240.7 L241.6,241.0 L242.9,241.3 L244.1,241.5 L245.4,241.7 L246.7,241.9 L247.9,242.1 L249.2,242.3 L250.5,242.5 L251.7,242.6 L253.0,242.7 L254.3,242.8 L255.5,243.0 L256.8,243.1 L258.0,243.1 L259.3,243.2 L260.5,243.3 L261.8,243.3 L263.0,243.4 L264.3,243.4 L265.5,243.5 L266.8,243.5 L268.0,243.5 L269.2,243.5 L270.5,243.5 L271.7,243.5 L272.9,243.5 L274.2,243.5 L275.4,243.5 L276.6,243.5 L277.9,243.5 L279.1,243.5 L280.4,243.5 L281.6,243.5 L282.8,243.4 L284.1,243.4 L285.3,243.4 L286.5,243.4 L287.8,243.4 L289.0,243.3 L290.2,243.3 L291.5,243.3 L292.7,243.3 L294.0,243.3 L295.2,243.3 L296.5,243.3 L297.7,243.3 L299.0,243.3 L300.2,243.3 L301.5,243.4 L302.7,243.4 L304.0,243.4 L305.3,243.4 L306.5,243.4 L307.8,243.5 L309.0,243.5 L310.3,243.5 L311.5,243.5 L312.8,243.6 L314.1,243.6 L315.3,243.6 L316.6,243.6 L317.8,243.7 L319.1,243.7 L320.3,243.7 L321.6,243.7 L322.8,243.7 L324.1,243.7 L325.3,243.7 L326.6,243.7 L327.8,243.7 L329.1,243.7 L330.3,243.7 L331.5,243.7 L332.8,243.6 L334.0,243.6" stroke="#ff00ff" stroke-width="1" fill="none" shape-rendering="crispEdges"/>
<path d="M38.5,496.8 L39.7,496.6 L41.0,496.4 L42.2,496.3 L43.4,496.2 L44.7,496.1 L45.9,496.1 L47.2,496.1 L48.4,496.1 L49.7,496.2 L50.9,496.2 L52.2,496.3 L53.4,496.4 L54.7,496.5 L56.0,496.6 L57.2,496.7 L58.5,496.9 L59.8,497.0 L61.0,497.1 L62.3,497.2 L63.5,497.3 L64.8,497.4 L66.0,497.5 L67.3,497.6 L68.6,497.6 L69.8,497.7 L71.0,497.7 L72.3,497.6 L73.5,497.6 L74.8,497.5 L76.0,497.4 L77.2,497.2 L78.4,497.0 L79.6,496.7 L80.8,496.5 L82.0,496.1 L83.2,495.8 L84.4,495.4 L85.6,495.0 L86.8,494.6 L88.0,494.2 L89.2,493.7 L90.4,493.3 L91.5,492.9 L92.7,492.5 L93.9,492.1 L95.1,491.7 L96.3,491.4 L97.5,491.1 L98.7,490.8 L99.9,490.6 L101.1,490.4 L102.3,490.2 L103.5,490.2 L104.8,490.2 L106.0,490.2 L107.3,490.3 L108.5,490.5 L109.7,490.6 L111.0,490.8 L112.2,490.9 L113.5,491.0 L114.7,491.1 L115.9,491.2 L117.1,491.1 L118.3,491.0 L119.5,490.8 L120.7,490.5 L121.8,490.0 L123.0,489.4 L124.1,488.8 L125.1,488.0 L126.1,487.2 L127.0,486.3 L127.9,485.4 L128.7,484.4 L129.4,483.4 L130.1,482.4 L130.7,481.3 L131.2,480.2 L131.7,479.1 L132.1,477.9 L132.5,476.7 L132.9,475.5 L133.2,474.3 L133.5,473.1 L133.8,471.9 L134.0,470.6 L134.3,469.4 L134.5,468.1 L134.7,466.9 L135.0,465.6 L135.2,464.4 L135.4,463.1 L135.7,461.9 L135.9,460.7 L136.2,459.4 L136.5,458.2 L136.7,457.0 L137.0,455.8 L137.3,454.6 L137.6,453.4 L137.9,452.2 L138.2,451.0 L138.5,449.8 L138.8,448.6 L139.1,447.4 L139.4,446.2 L139.7,445.0 L140.0,443.8 L140.3,442.6 L140.6,441.4 L140.9,440.2 L141.2,439.0 L141.5,437.9 L141.9,436.7 L142.2,435.5 L142.5,434.3 L142.8,433.1 L143.1,431.9 L143.4,430.7 L143.6,429.4 L143.9,428.2 L144.2,427.0 L144.5,425.8 L144.8,424.6 L145.0,423.3 L145.3,422.1 L145.6,420.8 L145.8,419.6 L146.1,418.3 L146.3,417.1 L146.5,415.8 L146.7,414.5 L146.9,413.2 L147.2,411.9 L147.3,410.6 L147.5,409.3 L147.7,408.0 L148.0,406.7 L148.2,405.5 L148.5,404.2 L148.9,403.0 L149.3,401.8 L149.8,400.7 L150.4,399.6 L151.1,398.5 L151.9,397.6 L152.8,396.9 L153.6,396.3 L154.5,396.1 L155.3,396.1 L156.1,396.6 L156.7,397.5 L157.3,398.7 L157.9,400.2 L158.4,401.9 L158.8,403.6 L159.2,405.3 L159.7,406.8 L160.1,408.2 L160.5,409.5 L160.9,410.6 L161.3,411.8 L161.6,412.9 L162.0,414.0 L162.3,415.1 L162.6,416.3 L162.9,417.4 L163.1,418.6 L163.4,419.8 L163.6,421.0 L163.9,422.2 L164.1,423.4 L164.3,424.6 L164.5,425.9 L164.8,427.1 L165.0,428.3 L165.2,429.6 L165.4,430.8 L165.6,432.0 L165.9,433.3 L166.1,434.5 L166.3,435.8 L166.5,437.0 L166.8,438.3 L167.0,439.5 L167.2,440.7 L167.5,442.0 L167.7,443.2 L168.0,444.5 L168.2,445.7 L168.5,447.0 L168.7,448.2 L169.0,449.4 L169.3,450.7 L169.5,451.9 L169.8,453.1 L170.1,454.3 L170.3,455.5 L170.6,456.7 L170.9,457.9 L171.2,459.1 L171.5,460.3 L171.8,461.5 L172.1,462.7 L172.4,463.8 L172.8,465.0 L173.1,466.2 L173.4,467.3 L173.8,468.4 L174.1,469.6 L174.5,470.7 L174.9,471.9 L175.4,473.0 L175.8,474.2 L176.3,475.3 L176.8,476.5 L177.4,477.7 L178.0,479.0 L178.7,480.2 L179.4,481.5 L180.2,482.7 L181.0,483.9 L181.8,485.0 L182.6,485.9 L183.5,486.8 L184.4,487.5 L185.4,488.1 L186.3,488.5 L187.3,488.6 L188.3,488.6 L189.3,488.3 L190.3,487.8 L191.3,487.1 L192.2,486.3 L193.2,485.4 L194.0,484.4 L194.9,483.4 L195.6,482.3 L196.4,481.2 L197.0,480.2 L197.5,479.1 L198.1,478.1 L198.5,477.0 L199.0,475.9 L199.5,474.8 L200.0,473.6 L200.5,472.4 L201.1,471.1 L201.8,469.8 L202.4,468.5 L203.1,467.2 L203.8,466.0 L204.6,464.9 L205.3,464.0 L206.1,463.2 L206.8,462.6 L207.6,462.2 L208.3,462.1 L209.0,462.3 L209.7,462.7 L210.4,463.4 L211.1,464.2 L211.7,465.3 L212.3,466.4 L212.9,467.6 L213.5,468.9 L214.1,470.3 L214.6,471.7 L215.1,473.0 L215.5,474.3 L216.0,475.5 L216.4,476.8 L216.8,478.0 L217.2,479.1 L217.6,480.3 L218.0,481.4 L218.4,482.5 L218.9,483.6 L219.3,484.7 L219.8,485.8 L220.3,487.0 L220.9,488.1 L221.4,489.2 L222.0,490.3 L222.7,491.4 L223.3,492.4 L224.0,493.5 L224.8,494.5 L225.5,495.5 L226.3,496.4 L227.1,497.4 L228.0,498.2 L228.9,499.1 L229.8,499.8 L230.8,500.6 L231.8,501.3 L232.8,501.9 L233.9,502.4 L235.0,502.9 L236.1,503.3 L237.3,503.6 L238.5,503.9 L239.7,504.1 L241.0,504.3 L242.2,504.5 L243.5,504.6 L244.8,504.7 L246.0,504.8 L247.3,504.9 L248.6,505.0 L249.9,505.0 L251.2,505.1 L252.5,505.3 L253.7,505.4 L255.0,505.5 L256.2,505.7 L257.5,505.8 L258.7,506.0 L260.0,506.2 L261.2,506.3 L262.5,506.5 L263.7,506.7 L264.9,506.9 L266.1,507.1 L267.4,507.3 L268.6,507.5 L269.8,507.7 L271.0,507.9 L272.2,508.1 L273.5,508.3 L274.7,508.4 L275.9,508.6 L277.1,508.8 L278.4,509.0 L279.6,509.1 L280.8,509.3 L282.1,509.4 L283.3,509.5 L284.5,509.7 L285.8,509.8 L287.0,509.9 L288.3,510.0 L289.5,510.1 L290.7,510.2 L292.0,510.3 L293.2,510.4 L294.5,510.5 L295.7,510.5 L297.0,510.6 L298.2,510.7 L299.5,510.7 L300.7,510.8 L302.0,510.8 L303.3,510.9 L304.5,510.9 L305.8,511.0 L307.0,511.0 L308.3,511.0 L309.5,511.1 L310.8,511.1 L312.0,511.1 L313.3,511.1 L314.6,511.2 L315.8,511.2 L317.1,511.2 L318.3,511.2 L319.6,511.2 L320.8,511.2 L322.1,511.2 L323.3,511.2 L324.6,511.2 L325.8,511.2 L327.1,511.2 L328.3,511.3 L329.6,511.3 L330.8,511.3 L332.0,511.3 L333.3,511.3 L334.5,511.3 L335.8,511.3 L337.0,511.3" stroke="#ff00ff" stroke-width="1" fill="none" shape-rendering="crispEdges"/>
<path d="M35.5,239.5 L36.8,239.7 L38.1,239.8 L39.4,239.9 L40.6,239.9 L41.9,239.9 L43.1,239.8 L44.4,239.8 L45.6,239.6 L46.8,239.4 L48.1,239.2 L49.3,239.0 L50.5,238.7 L51.7,238.4 L52.9,238.1 L54.1,237.7 L55.3,237.4 L56.5,237.0 L57.6,236.5 L58.8,236.1 L60.0,235.7 L61.2,235.2 L62.3,234.8 L63.5,234.3 L64.7,233.8 L65.8,233.4 L67.0,232.9 L68.1,232.4 L69.3,231.9 L70.5,231.5 L71.6,231.0 L72.8,230.6 L73.9,230.1 L75.1,229.7 L76.3,229.3 L77.4,228.9 L78.6,228.5 L79.8,228.1 L80.9,227.7 L82.1,227.4 L83.3,227.0 L84.5,226.7 L85.6,226.4 L86.8,226.1 L88.0,225.8 L89.2,225.6 L90.4,225.3 L91.6,225.1 L92.9,224.8 L94.1,224.6 L95.3,224.5 L96.6,224.3 L97.8,224.2 L99.0,224.0 L100.3,223.9 L101.6,223.8 L102.9,223.8 L104.1,223.7 L105.4,223.7 L106.7,223.7 L108.0,223.7 L109.4,223.7 L110.7,223.7 L112.0,223.7 L113.2,223.6 L114.5,223.6 L115.8,223.4 L117.0,223.3 L118.2,223.1 L119.4,222.8 L120.5,222.5 L121.6,222.1 L122.7,221.7 L123.7,221.1 L124.7,220.4 L125.7,219.7 L126.6,218.9 L127.4,218.0 L128.2,217.0 L129.0,216.0 L129.8,214.9 L130.5,213.8 L131.2,212.7 L131.8,211.6 L132.5,210.5 L133.1,209.3 L133.7,208.2 L134.3,207.1 L134.8,205.9 L135.3,204.8 L135.8,203.7 L136.3,202.5 L136.8,201.4 L137.3,200.2 L137.7,199.0 L138.1,197.9 L138.5,196.7 L138.9,195.6 L139.3,194.4 L139.7,193.2 L140.0,192.0 L140.4,190.9 L140.7,189.7 L141.1,188.5 L141.4,187.3 L141.7,186.1 L142.0,184.9 L142.3,183.7 L142.6,182.5 L142.9,181.3 L143.2,180.1 L143.5,178.9 L143.8,177.7 L144.1,176.5 L144.4,175.3 L144.6,174.0 L144.9,172.8 L145.2,171.6 L145.4,170.4 L145.7,169.2 L145.9,167.9 L146.2,166.7 L146.4,165.5 L146.7,164.2 L146.9,163.0 L147.2,161.8 L147.4,160.5 L147.6,159.3 L147.9,158.1 L148.1,156.8 L148.3,155.6 L148.5,154.4 L148.7,153.1 L149.0,151.9 L149.2,150.6 L149.4,149.4 L149.6,148.1 L149.8,146.9 L150.0,145.7 L150.2,144.4 L150.4,143.2 L150.6,141.9 L150.8,140.7 L151.0,139.4 L151.2,138.2 L151.4,136.9 L151.6,135.7 L151.8,134.4 L152.0,133.2 L152.2,132.0 L152.4,130.7 L152.5,129.5 L152.7,128.2 L152.9,127.0 L153.1,125.8 L153.3,124.5 L153.5,123.3 L153.7,122.0 L153.9,120.8 L154.1,119.6 L154.2,118.3 L154.4,117.1 L154.6,115.9 L154.8,114.6 L155.0,113.4 L155.2,112.2 L155.4,111.0 L155.6,109.7 L155.8,108.5 L156.0,107.3 L156.2,106.1 L156.4,104.9 L156.6,103.7 L156.8,102.4 L157.0,101.2 L157.2,100.0 L157.4,98.8 L157.6,97.6 L157.8,96.4 L158.0,95.2 L158.2,94.0 L158.5,92.8 L158.7,91.6 L158.9,90.4 L159.1,89.2 L159.3,88.0 L159.5,86.8 L159.7,85.6 L160.0,84.4 L160.2,83.2 L160.4,81.9 L160.6,80.7 L160.8,79.5 L161.0,78.3 L161.3,77.0 L161.5,75.8 L161.7,74.5 L161.9,73.3 L162.1,72.0 L162.3,70.7 L162.5,69.5 L162.7,68.2 L162.9,66.9 L163.1,65.6 L163.3,64.3 L163.5,62.9 L163.7,61.6 L163.9,60.3 L164.0,58.9 L164.2,57.6 L164.4,56.2 L164.6,54.8 L164.8,53.4 L165.0,52.1 L165.3,50.8 L165.5,49.5 L165.9,48.2 L166.2,47.0 L166.6,45.8 L167.1,44.8 L167.7,43.7 L168.3,42.8 L169.0,41.9 L169.8,41.1 L170.6,40.5 L171.4,40.0 L172.3,39.8 L173.1,39.8 L173.9,40.0 L174.5,40.6 L175.1,41.4 L175.6,42.6 L176.0,44.0 L176.3,45.6 L176.6,47.2 L176.9,48.9 L177.2,50.6 L177.4,52.2 L177.7,53.6 L178.0,55.0 L178.3,56.3 L178.6,57.5 L178.9,58.7 L179.2,59.9 L179.5,61.1 L179.7,62.2 L179.9,63.4 L180.1,64.5 L180.3,65.7 L180.5,66.9 L180.7,68.0 L180.8,69.2 L181.0,70.4 L181.2,71.6 L181.4,72.9 L181.6,74.1 L181.8,75.3 L182.0,76.6 L182.3,77.8 L182.5,79.1 L182.7,80.3 L182.9,81.6 L183.1,82.8 L183.3,84.1 L183.6,85.3 L183.8,86.6 L184.0,87.8 L184.2,89.1 L184.5,90.3 L184.7,91.5 L184.9,92.8 L185.1,94.0 L185.3,95.2 L185.6,96.5 L185.8,97.7 L186.0,98.9 L186.2,100.1 L186.5,101.4 L186.7,102.6 L186.9,103.8 L187.1,105.0 L187.4,106.2 L187.6,107.5 L187.8,108.7 L188.0,109.9 L188.2,111.1 L188.5,112.4 L188.7,113.6 L188.9,114.8 L189.1,116.0 L189.3,117.2 L189.5,118.5 L189.8,119.7 L190.0,120.9 L190.2,122.1 L190.4,123.4 L190.6,124.6 L190.8,125.8 L191.0,127.1 L191.2,128.3 L191.5,129.5 L191.7,130.8 L191.9,132.0 L192.1,133.3 L192.3,134.5 L192.5,135.7 L192.7,137.0 L192.9,138.2 L193.1,139.5 L193.3,140.7 L193.5,142.0 L193.7,143.2 L193.9,144.4 L194.2,145.7 L194.4,146.9 L194.6,148.2 L194.8,149.4 L195.0,150.7 L195.2,151.9 L195.4,153.1 L195.6,154.4 L195.8,155.6 L196.0,156.9 L196.3,158.1 L196.5,159.3 L196.7,160.6 L196.9,161.8 L197.1,163.0 L197.3,164.2 L197.6,165.5 L197.8,166.7 L198.0,167.9 L198.2,169.1 L198.5,170.3 L198.7,171.5 L198.9,172.7 L199.2,173.9 L199.4,175.2 L199.7,176.4 L199.9,177.6 L200.2,178.8 L200.4,180.0 L200.7,181.2 L200.9,182.4 L201.2,183.6 L201.5,184.8 L201.8,186.0 L202.0,187.2 L202.3,188.4 L202.6,189.6 L202.9,190.8 L203.2,192.0 L203.6,193.2 L203.9,194.4 L204.2,195.6 L204.5,196.8 L204.9,198.0 L205.2,199.3 L205.6,200.5 L206.0,201.7 L206.4,202.9 L206.7,204.2 L207.1,205.4 L207.5,206.6 L208.0,207.8 L208.4,209.1 L208.8,210.3 L209.3,211.5 L209.8,212.7 L210.3,213.9 L210.8,215.1 L211.3,216.2 L211.8,217.4 L212.4,218.5 L213.0,219.7 L213.6,220.8 L214.2,221.9 L214.8,222.9 L215.5,224.0 L216.2,225.0 L216.9,226.0 L217.6,226.9 L218.4,227.9 L219.2,228.8 L220.0,229.6 L220.8,230.5 L221.7,231.3 L222.6,232.1 L223.5,232.8 L224.4,233.5 L225.4,234.2 L226.4,234.8 L227.4,235.4 L228.5,236.0 L229.5,236.5 L230.6,237.0 L231.8,237.5 L232.9,237.9 L234.0,238.4 L235.2,238.8 L236.4,239.1 L237.6,239.5 L238.8,239.8 L240.0,240.1 L241.3,240.4 L242.5,240.7 L243.8,240.9 L245.0,241.2 L246.3,241.4 L247.6,241.6 L248.8,241.8 L250.1,241.9 L251.4,242.1 L252.7,242.2 L254.0,242.4 L255.3,242.5 L256.6,242.6 L257.8,242.8 L259.1,242.9 L260.4,243.0 L261.7,243.1 L262.9,243.2 L264.2,243.3 L265.5,243.3 L266.7,243.4 L268.0,243.5 L269.2,243.6 L270.5,243.6 L271.7,243.7 L273.0,243.7 L274.2,243.8 L275.5,243.8 L276.7,243.9 L278.0,243.9 L279.2,243.9 L280.5,243.9 L281.7,244.0 L282.9,244.0 L284.2,244.0 L285.4,244.0 L286.6,244.0 L287.9,244.1 L289.1,244.1 L290.3,244.1 L291.6,244.1 L292.8,244.1 L294.0,244.1 L295.3,244.1 L296.5,244.1 L297.7,244.1 L299.0,244.1 L300.2,244.1 L301.4,244.0 L302.7,244.0 L303.9,244.0 L305.1,244.0 L306.4,244.0 L307.6,244.0 L308.9,244.0 L310.1,244.0 L311.3,244.0 L312.6,244.0 L313.8,244.0 L315.1,244.0 L316.3,244.0 L317.6,244.0 L318.8,244.0 L320.1,244.0 L321.3,244.0 L322.6,244.0 L323.8,244.0 L325.1,244.0 L326.4,244.0 L327.6,244.1 L328.9,244.1 L330.2,244.1 L331.4,244.1 L332.7,244.2 L334.0,244.2" stroke="#00ff00" stroke-width="1" fill="none" shape-rendering="crispEdges"/>
<path d="M38.5,501.4 L39.7,501.2 L41.0,501.1 L42.2,501.0 L43.4,500.9 L44.7,500.8 L45.9,500.8 L47.2,500.7 L48.4,500.7 L49.7,500.7 L50.9,500.7 L52.2,500.7 L53.4,500.7 L54.7,500.8 L55.9,500.8 L57.2,500.8 L58.5,500.9 L59.7,500.9 L61.0,500.9 L62.2,500.9 L63.5,501.0 L64.8,501.0 L66.0,501.0 L67.3,500.9 L68.5,500.9 L69.8,500.9 L71.0,500.8 L72.2,500.7 L73.5,500.6 L74.7,500.4 L75.9,500.3 L77.2,500.1 L78.4,499.8 L79.6,499.6 L80.8,499.3 L82.0,498.9 L83.2,498.6 L84.4,498.2 L85.6,497.8 L86.8,497.3 L88.0,496.9 L89.1,496.4 L90.3,496.0 L91.5,495.5 L92.7,495.1 L93.8,494.7 L95.0,494.3 L96.2,494.0 L97.4,493.7 L98.6,493.5 L99.8,493.3 L101.0,493.1 L102.2,493.0 L103.4,492.9 L104.6,492.9 L105.8,492.9 L107.1,492.9 L108.3,492.9 L109.5,492.9 L110.8,493.0 L112.1,493.0 L113.3,493.1 L114.6,493.1 L115.9,493.1 L117.1,493.1 L118.4,493.1 L119.6,493.0 L120.7,492.8 L121.9,492.5 L122.9,492.1 L124.0,491.6 L124.9,491.0 L125.8,490.2 L126.7,489.3 L127.4,488.4 L128.1,487.3 L128.8,486.2 L129.4,485.0 L130.0,483.8 L130.6,482.6 L131.1,481.3 L131.5,480.0 L132.0,478.7 L132.4,477.5 L132.7,476.2 L133.1,475.0 L133.4,473.8 L133.8,472.7 L134.1,471.5 L134.4,470.3 L134.7,469.2 L135.0,468.0 L135.3,466.9 L135.6,465.7 L135.9,464.5 L136.2,463.4 L136.5,462.2 L136.8,461.0 L137.1,459.8 L137.5,458.6 L137.8,457.4 L138.1,456.2 L138.5,455.0 L138.8,453.8 L139.2,452.5 L139.5,451.3 L139.8,450.1 L140.2,448.9 L140.5,447.7 L140.9,446.4 L141.2,445.2 L141.5,444.0 L141.9,442.7 L142.2,441.5 L142.5,440.3 L142.8,439.1 L143.1,437.8 L143.5,436.6 L143.8,435.4 L144.0,434.2 L144.3,433.0 L144.6,431.8 L144.9,430.6 L145.1,429.4 L145.4,428.2 L145.6,427.0 L145.9,425.9 L146.1,424.7 L146.3,423.5 L146.5,422.4 L146.7,421.2 L146.9,420.0 L147.2,418.8 L147.5,417.6 L147.8,416.3 L148.1,415.0 L148.5,413.6 L149.0,412.2 L149.5,410.7 L150.1,409.3 L150.7,407.9 L151.3,406.6 L152.0,405.4 L152.7,404.5 L153.4,403.8 L154.0,403.4 L154.7,403.3 L155.3,403.5 L155.9,404.1 L156.5,405.0 L157.0,406.1 L157.6,407.4 L158.1,408.7 L158.5,410.2 L159.0,411.7 L159.4,413.2 L159.7,414.6 L160.1,415.9 L160.4,417.2 L160.7,418.5 L161.0,419.7 L161.3,420.9 L161.6,422.1 L161.8,423.3 L162.1,424.4 L162.4,425.6 L162.6,426.7 L162.9,427.9 L163.2,429.0 L163.5,430.2 L163.8,431.4 L164.1,432.6 L164.4,433.8 L164.7,435.0 L165.1,436.2 L165.4,437.4 L165.7,438.6 L166.0,439.9 L166.4,441.1 L166.7,442.3 L167.0,443.6 L167.3,444.8 L167.6,446.0 L167.9,447.3 L168.2,448.5 L168.5,449.7 L168.8,451.0 L169.0,452.2 L169.3,453.4 L169.5,454.7 L169.8,455.9 L170.0,457.1 L170.2,458.3 L170.4,459.5 L170.6,460.7 L170.8,462.0 L171.0,463.2 L171.1,464.4 L171.4,465.6 L171.6,466.8 L171.8,468.0 L172.0,469.2 L172.3,470.4 L172.6,471.6 L172.9,472.8 L173.3,474.0 L173.6,475.2 L174.0,476.5 L174.5,477.7 L175.0,478.9 L175.5,480.1 L176.1,481.3 L176.7,482.5 L177.3,483.7 L178.0,484.8 L178.8,485.9 L179.6,486.9 L180.4,487.8 L181.2,488.7 L182.1,489.4 L183.1,490.0 L184.0,490.5 L185.0,490.8 L186.1,490.9 L187.1,490.9 L188.2,490.8 L189.3,490.4 L190.4,490.0 L191.5,489.4 L192.5,488.7 L193.6,487.9 L194.6,487.0 L195.5,486.0 L196.4,484.9 L197.2,483.8 L197.9,482.7 L198.6,481.5 L199.2,480.2 L199.7,479.0 L200.2,477.8 L200.6,476.5 L201.1,475.3 L201.5,474.1 L201.9,472.9 L202.4,471.7 L202.9,470.6 L203.5,469.5 L204.1,468.5 L204.8,467.6 L205.5,466.7 L206.3,466.1 L207.2,465.7 L208.0,465.6 L208.8,465.8 L209.6,466.3 L210.4,466.9 L211.0,467.7 L211.7,468.6 L212.2,469.6 L212.7,470.7 L213.2,471.9 L213.7,473.1 L214.1,474.4 L214.5,475.7 L214.9,477.1 L215.3,478.4 L215.8,479.8 L216.2,481.1 L216.7,482.4 L217.2,483.6 L217.7,484.8 L218.3,486.0 L218.9,487.1 L219.5,488.2 L220.2,489.2 L220.9,490.2 L221.6,491.2 L222.4,492.1 L223.2,493.0 L224.1,493.8 L224.9,494.6 L225.9,495.4 L226.8,496.1 L227.8,496.7 L228.8,497.4 L229.9,498.0 L230.9,498.5 L232.0,499.0 L233.1,499.5 L234.3,500.0 L235.4,500.5 L236.6,500.9 L237.8,501.3 L239.0,501.6 L240.2,502.0 L241.5,502.3 L242.7,502.6 L244.0,502.9 L245.2,503.2 L246.5,503.5 L247.7,503.7 L249.0,504.0 L250.2,504.2 L251.5,504.5 L252.7,504.7 L254.0,505.0 L255.2,505.2 L256.5,505.4 L257.7,505.6 L258.9,505.8 L260.2,506.0 L261.4,506.3 L262.6,506.5 L263.9,506.7 L265.1,506.9 L266.3,507.0 L267.5,507.2 L268.7,507.4 L270.0,507.6 L271.2,507.8 L272.4,508.0 L273.6,508.1 L274.9,508.3 L276.1,508.5 L277.3,508.7 L278.5,508.8 L279.8,509.0 L281.0,509.2 L282.2,509.3 L283.4,509.5 L284.7,509.6 L285.9,509.8 L287.2,510.0 L288.4,510.1 L289.6,510.3 L290.9,510.4 L292.1,510.5 L293.4,510.7 L294.6,510.8 L295.8,510.9 L297.1,511.1 L298.3,511.2 L299.6,511.3 L300.8,511.5 L302.1,511.6 L303.3,511.7 L304.6,511.8 L305.8,511.9 L307.1,512.0 L308.3,512.1 L309.6,512.2 L310.8,512.3 L312.1,512.4 L313.3,512.4 L314.6,512.5 L315.8,512.6 L317.1,512.7 L318.3,512.7 L319.6,512.8 L320.8,512.8 L322.1,512.9 L323.3,512.9 L324.6,512.9 L325.8,513.0 L327.1,513.0 L328.3,513.0 L329.5,513.0 L330.8,513.0 L332.0,513.1 L333.3,513.0 L334.5,513.0 L335.8,513.0 L337.0,513.0" stroke="#00ff00" stroke-width="1" fill="none" shape-rendering="crispEdges"/>
<path d="M35.5,240.5 L36.7,240.4 L37.9,240.3 L39.1,240.2 L40.4,240.1 L41.6,240.1 L42.9,240.1 L44.1,240.2 L45.4,240.2 L46.6,240.3 L47.9,240.3 L49.2,240.4 L50.4,240.5 L51.7,240.6 L53.0,240.6 L54.3,240.7 L55.5,240.8 L56.8,240.8 L58.1,240.9 L59.3,240.9 L60.6,240.9 L61.9,240.8 L63.1,240.8 L64.4,240.7 L65.6,240.6 L66.8,240.4 L68.0,240.2 L69.3,240.0 L70.5,239.7 L71.6,239.4 L72.8,239.0 L74.0,238.6 L75.2,238.2 L76.4,237.8 L77.5,237.3 L78.7,236.8 L79.8,236.4 L81.0,235.9 L82.1,235.4 L83.3,234.8 L84.5,234.3 L85.6,233.8 L86.8,233.3 L87.9,232.8 L89.1,232.4 L90.2,231.9 L91.4,231.5 L92.6,231.0 L93.8,230.6 L95.0,230.3 L96.2,229.9 L97.4,229.6 L98.6,229.3 L99.8,229.1 L101.0,228.8 L102.2,228.6 L103.4,228.4 L104.7,228.2 L105.9,228.1 L107.1,227.9 L108.4,227.8 L109.6,227.6 L110.8,227.5 L112.1,227.4 L113.3,227.3 L114.6,227.2 L115.8,227.0 L117.0,226.9 L118.3,226.8 L119.5,226.6 L120.7,226.5 L122.0,226.3 L123.2,226.1 L124.4,225.9 L125.6,225.7 L126.8,225.5 L128.0,225.2 L129.2,224.9 L130.4,224.6 L131.5,224.3 L132.6,223.9 L133.8,223.5 L134.9,223.1 L135.9,222.6 L137.0,222.1 L138.0,221.5 L139.0,220.9 L140.0,220.3 L140.9,219.6 L141.8,218.8 L142.7,218.0 L143.5,217.2 L144.3,216.2 L145.1,215.3 L145.9,214.3 L146.6,213.2 L147.3,212.2 L147.9,211.1 L148.5,209.9 L149.2,208.8 L149.8,207.6 L150.3,206.5 L150.9,205.3 L151.5,204.1 L152.0,202.9 L152.5,201.8 L153.0,200.6 L153.5,199.4 L154.0,198.2 L154.5,197.1 L155.0,195.9 L155.4,194.7 L155.9,193.5 L156.3,192.3 L156.8,191.1 L157.2,190.0 L157.6,188.8 L158.0,187.6 L158.4,186.4 L158.7,185.2 L159.1,184.0 L159.5,182.8 L159.8,181.6 L160.2,180.4 L160.5,179.2 L160.8,178.0 L161.2,176.8 L161.5,175.6 L161.8,174.4 L162.1,173.2 L162.4,172.0 L162.6,170.8 L162.9,169.6 L163.2,168.4 L163.5,167.2 L163.7,166.0 L164.0,164.8 L164.2,163.6 L164.5,162.4 L164.7,161.1 L165.0,159.9 L165.2,158.7 L165.4,157.5 L165.7,156.3 L165.9,155.1 L166.1,153.9 L166.3,152.6 L166.6,151.4 L166.8,150.2 L167.0,149.0 L167.2,147.8 L167.4,146.5 L167.6,145.3 L167.8,144.1 L168.0,142.9 L168.2,141.6 L168.4,140.4 L168.6,139.2 L168.8,137.9 L169.0,136.7 L169.3,135.5 L169.5,134.3 L169.7,133.0 L169.9,131.8 L170.1,130.6 L170.3,129.3 L170.5,128.1 L170.7,126.9 L170.9,125.6 L171.1,124.4 L171.3,123.2 L171.6,121.9 L171.8,120.7 L172.0,119.4 L172.2,118.2 L172.4,117.0 L172.6,115.7 L172.8,114.5 L173.0,113.3 L173.2,112.0 L173.4,110.8 L173.6,109.5 L173.9,108.3 L174.1,107.1 L174.3,105.8 L174.5,104.6 L174.7,103.3 L174.9,102.1 L175.1,100.9 L175.3,99.6 L175.5,98.4 L175.7,97.1 L175.9,95.9 L176.0,94.7 L176.2,93.4 L176.4,92.2 L176.6,90.9 L176.8,89.7 L177.0,88.5 L177.2,87.2 L177.3,86.0 L177.5,84.7 L177.7,83.5 L177.9,82.3 L178.1,81.1 L178.3,79.8 L178.5,78.6 L178.7,77.4 L178.9,76.2 L179.1,74.9 L179.3,73.7 L179.5,72.5 L179.7,71.3 L179.9,70.1 L180.1,68.9 L180.4,67.7 L180.6,66.5 L180.9,65.3 L181.1,64.1 L181.4,62.9 L181.7,61.8 L182.0,60.6 L182.3,59.4 L182.7,58.2 L183.0,57.0 L183.4,55.7 L183.9,54.5 L184.3,53.3 L184.8,52.0 L185.3,50.7 L185.9,49.4 L186.4,48.1 L186.9,46.7 L187.4,45.3 L187.9,44.0 L188.4,42.7 L188.9,41.7 L189.3,41.0 L189.8,40.8 L190.3,41.2 L190.7,41.9 L191.2,43.0 L191.7,44.3 L192.3,45.7 L192.8,47.1 L193.4,48.5 L193.9,49.9 L194.5,51.2 L195.0,52.5 L195.5,53.8 L195.9,55.0 L196.3,56.2 L196.6,57.4 L197.0,58.5 L197.3,59.7 L197.6,60.8 L197.9,62.0 L198.2,63.2 L198.4,64.3 L198.7,65.5 L199.0,66.7 L199.3,67.9 L199.5,69.1 L199.8,70.3 L200.0,71.5 L200.3,72.7 L200.5,73.9 L200.7,75.1 L201.0,76.4 L201.2,77.6 L201.4,78.8 L201.7,80.1 L201.9,81.3 L202.1,82.5 L202.3,83.8 L202.5,85.0 L202.7,86.3 L202.9,87.5 L203.1,88.7 L203.3,90.0 L203.5,91.2 L203.7,92.5 L203.9,93.7 L204.1,95.0 L204.3,96.2 L204.5,97.5 L204.7,98.7 L204.9,100.0 L205.1,101.2 L205.3,102.5 L205.5,103.7 L205.7,105.0 L205.9,106.2 L206.1,107.4 L206.3,108.7 L206.6,109.9 L206.8,111.1 L207.0,112.4 L207.2,113.6 L207.4,114.8 L207.6,116.1 L207.8,117.3 L208.0,118.5 L208.2,119.7 L208.4,121.0 L208.6,122.2 L208.8,123.4 L209.1,124.6 L209.3,125.9 L209.5,127.1 L209.7,128.3 L209.9,129.5 L210.1,130.7 L210.3,131.9 L210.6,133.2 L210.8,134.4 L211.0,135.6 L211.2,136.8 L211.4,138.0 L211.7,139.2 L211.9,140.5 L212.1,141.7 L212.3,142.9 L212.6,144.1 L212.8,145.3 L213.0,146.5 L213.3,147.8 L213.5,149.0 L213.7,150.2 L214.0,151.4 L214.2,152.6 L214.4,153.8 L214.7,155.1 L214.9,156.3 L215.1,157.5 L215.4,158.7 L215.6,159.9 L215.9,161.1 L216.1,162.4 L216.3,163.6 L216.6,164.8 L216.8,166.0 L217.1,167.3 L217.3,168.5 L217.6,169.7 L217.8,170.9 L218.1,172.2 L218.3,173.4 L218.6,174.6 L218.9,175.9 L219.1,177.1 L219.4,178.3 L219.6,179.6 L219.9,180.8 L220.2,182.1 L220.4,183.3 L220.7,184.5 L221.0,185.8 L221.2,187.0 L221.5,188.3 L221.8,189.5 L222.1,190.8 L222.3,192.0 L222.6,193.3 L222.9,194.5 L223.2,195.8 L223.5,197.0 L223.9,198.2 L224.2,199.5 L224.5,200.7 L224.9,201.9 L225.2,203.1 L225.6,204.3 L226.0,205.5 L226.4,206.7 L226.8,207.9 L227.2,209.1 L227.7,210.2 L228.1,211.4 L228.6,212.5 L229.1,213.7 L229.6,214.8 L230.2,215.9 L230.7,217.0 L231.3,218.1 L231.9,219.1 L232.5,220.2 L233.2,221.2 L233.8,222.2 L234.5,223.2 L235.3,224.2 L236.0,225.2 L236.8,226.1 L237.6,227.0 L238.4,227.9 L239.2,228.8 L240.1,229.7 L241.0,230.5 L241.9,231.3 L242.8,232.1 L243.8,232.9 L244.8,233.6 L245.8,234.4 L246.8,235.1 L247.8,235.7 L248.9,236.3 L249.9,237.0 L251.0,237.5 L252.1,238.1 L253.2,238.6 L254.3,239.1 L255.5,239.5 L256.6,239.9 L257.8,240.3 L259.0,240.7 L260.2,241.0 L261.4,241.3 L262.6,241.6 L263.8,241.8 L265.1,242.0 L266.3,242.2 L267.6,242.4 L268.8,242.5 L270.1,242.6 L271.3,242.7 L272.6,242.8 L273.9,242.9 L275.2,243.0 L276.4,243.0 L277.7,243.1 L279.0,243.1 L280.3,243.1 L281.6,243.1 L282.9,243.1 L284.2,243.1 L285.4,243.1 L286.7,243.1 L288.0,243.1 L289.3,243.1 L290.5,243.1 L291.8,243.2 L293.0,243.2 L294.3,243.2 L295.5,243.2 L296.8,243.2 L298.0,243.3 L299.2,243.3 L300.5,243.3 L301.7,243.3 L302.9,243.4 L304.2,243.4 L305.4,243.4 L306.6,243.5 L307.8,243.5 L309.0,243.5 L310.3,243.6 L311.5,243.6 L312.7,243.6 L313.9,243.7 L315.2,243.7 L316.4,243.7 L317.6,243.7 L318.9,243.7 L320.1,243.8 L321.3,243.8 L322.6,243.8 L323.8,243.8 L325.1,243.8 L326.3,243.8 L327.6,243.8 L328.9,243.7 L330.1,243.7 L331.4,243.7 L332.7,243.6 L334.0,243.6" stroke="#ff0000" stroke-width="1" fill="none" shape-rendering="crispEdges"/>
<path d="M38.5,513.7 L39.7,513.6 L40.9,513.6 L42.2,513.6 L43.4,513.5 L44.6,513.5 L45.9,513.5 L47.1,513.5 L48.4,513.4 L49.6,513.4 L50.9,513.4 L52.1,513.4 L53.4,513.4 L54.7,513.3 L55.9,513.3 L57.2,513.2 L58.4,513.2 L59.7,513.1 L60.9,513.0 L62.2,513.0 L63.4,512.8 L64.7,512.7 L65.9,512.6 L67.2,512.4 L68.4,512.3 L69.6,512.1 L70.9,511.8 L72.1,511.6 L73.3,511.3 L74.5,511.0 L75.7,510.7 L76.9,510.4 L78.1,510.0 L79.3,509.6 L80.5,509.2 L81.6,508.8 L82.8,508.4 L84.0,507.9 L85.1,507.5 L86.3,507.0 L87.5,506.5 L88.6,506.0 L89.8,505.6 L90.9,505.1 L92.1,504.6 L93.2,504.1 L94.3,503.7 L95.5,503.2 L96.6,502.8 L97.8,502.4 L98.9,502.0 L100.1,501.6 L101.2,501.3 L102.4,500.9 L103.5,500.6 L104.7,500.4 L105.9,500.1 L107.1,500.0 L108.2,499.9 L109.4,499.9 L110.7,499.9 L111.9,500.0 L113.1,500.3 L114.4,500.6 L115.7,500.9 L116.9,501.3 L118.2,501.6 L119.4,501.9 L120.6,502.1 L121.8,502.1 L122.9,502.0 L124.0,501.7 L125.0,501.2 L126.0,500.6 L127.0,499.8 L127.8,498.9 L128.7,498.0 L129.5,496.9 L130.3,495.8 L131.0,494.6 L131.7,493.4 L132.3,492.2 L132.9,491.1 L133.5,489.9 L134.1,488.8 L134.6,487.6 L135.2,486.5 L135.7,485.4 L136.1,484.3 L136.6,483.2 L137.0,482.0 L137.4,480.9 L137.8,479.8 L138.2,478.6 L138.6,477.5 L139.0,476.3 L139.4,475.2 L139.7,474.0 L140.1,472.8 L140.4,471.6 L140.8,470.4 L141.1,469.2 L141.4,468.0 L141.7,466.8 L142.0,465.6 L142.4,464.3 L142.7,463.1 L143.0,461.9 L143.3,460.7 L143.6,459.4 L143.9,458.2 L144.2,457.0 L144.5,455.7 L144.8,454.5 L145.1,453.3 L145.4,452.0 L145.6,450.8 L145.9,449.6 L146.2,448.4 L146.6,447.2 L146.9,446.0 L147.2,444.8 L147.5,443.6 L147.8,442.4 L148.1,441.2 L148.4,440.1 L148.8,438.9 L149.1,437.8 L149.5,436.6 L149.8,435.5 L150.2,434.3 L150.5,433.1 L150.9,432.0 L151.2,430.8 L151.5,429.6 L151.9,428.3 L152.2,427.1 L152.6,425.8 L152.9,424.4 L153.2,423.1 L153.6,421.7 L154.0,420.3 L154.4,419.0 L154.9,417.6 L155.4,416.3 L156.0,415.1 L156.7,414.0 L157.3,413.1 L158.0,412.6 L158.7,412.4 L159.4,412.7 L160.1,413.4 L160.8,414.3 L161.4,415.5 L162.0,416.7 L162.6,418.1 L163.1,419.4 L163.6,420.8 L164.0,422.1 L164.4,423.5 L164.8,424.8 L165.2,426.1 L165.6,427.4 L165.9,428.6 L166.3,429.9 L166.7,431.1 L167.0,432.3 L167.3,433.4 L167.7,434.6 L168.0,435.8 L168.3,436.9 L168.6,438.1 L168.9,439.2 L169.2,440.4 L169.5,441.6 L169.8,442.8 L170.1,443.9 L170.4,445.1 L170.6,446.3 L170.9,447.6 L171.2,448.8 L171.5,450.0 L171.7,451.2 L172.0,452.4 L172.3,453.7 L172.5,454.9 L172.8,456.2 L173.0,457.4 L173.3,458.6 L173.5,459.9 L173.8,461.1 L174.0,462.4 L174.2,463.6 L174.5,464.8 L174.7,466.1 L174.9,467.3 L175.2,468.5 L175.4,469.7 L175.6,470.9 L175.9,472.1 L176.1,473.3 L176.4,474.5 L176.6,475.7 L176.9,476.9 L177.2,478.1 L177.6,479.3 L178.0,480.5 L178.4,481.7 L178.9,482.9 L179.4,484.0 L179.9,485.2 L180.6,486.4 L181.2,487.6 L181.9,488.7 L182.7,489.8 L183.5,490.9 L184.3,491.8 L185.2,492.5 L186.1,493.2 L187.0,493.6 L187.9,493.8 L188.7,493.8 L189.6,493.5 L190.5,493.0 L191.3,492.3 L192.2,491.5 L193.0,490.5 L193.8,489.4 L194.6,488.2 L195.3,487.0 L196.0,485.7 L196.7,484.4 L197.4,483.1 L198.0,481.9 L198.5,480.7 L199.1,479.6 L199.6,478.5 L200.1,477.4 L200.5,476.4 L200.9,475.3 L201.3,474.2 L201.7,473.2 L202.1,472.0 L202.4,470.9 L202.8,469.7 L203.2,468.6 L203.6,467.3 L204.0,466.1 L204.5,464.8 L205.1,463.5 L205.7,462.2 L206.3,460.9 L207.0,459.6 L207.7,458.4 L208.5,457.3 L209.2,456.3 L210.0,455.4 L210.7,454.7 L211.5,454.2 L212.2,453.9 L212.9,453.9 L213.6,454.2 L214.2,454.7 L214.8,455.4 L215.4,456.3 L215.9,457.4 L216.4,458.6 L217.0,459.8 L217.5,461.2 L218.0,462.6 L218.5,464.0 L218.9,465.4 L219.4,466.7 L220.0,467.9 L220.5,469.1 L221.0,470.2 L221.5,471.3 L222.0,472.3 L222.5,473.3 L223.0,474.3 L223.5,475.4 L224.0,476.4 L224.5,477.4 L225.0,478.5 L225.5,479.7 L225.9,480.8 L226.4,482.0 L226.8,483.3 L227.3,484.5 L227.8,485.8 L228.3,487.0 L228.8,488.3 L229.4,489.5 L230.0,490.6 L230.6,491.7 L231.3,492.8 L232.1,493.8 L232.9,494.7 L233.7,495.6 L234.6,496.4 L235.6,497.1 L236.5,497.8 L237.5,498.5 L238.6,499.1 L239.6,499.7 L240.7,500.3 L241.8,500.8 L242.9,501.2 L244.1,501.7 L245.2,502.1 L246.4,502.5 L247.5,502.9 L248.7,503.2 L249.9,503.5 L251.1,503.8 L252.3,504.1 L253.5,504.4 L254.7,504.6 L255.9,504.8 L257.2,505.0 L258.4,505.2 L259.6,505.4 L260.9,505.6 L262.1,505.7 L263.4,505.8 L264.6,506.0 L265.9,506.1 L267.1,506.2 L268.4,506.3 L269.7,506.4 L270.9,506.4 L272.2,506.5 L273.4,506.6 L274.7,506.7 L276.0,506.7 L277.2,506.8 L278.5,506.9 L279.7,506.9 L281.0,507.0 L282.2,507.0 L283.5,507.1 L284.7,507.2 L286.0,507.2 L287.2,507.3 L288.5,507.3 L289.7,507.4 L291.0,507.4 L292.2,507.5 L293.4,507.5 L294.7,507.6 L295.9,507.6 L297.2,507.6 L298.4,507.7 L299.6,507.7 L300.9,507.8 L302.1,507.8 L303.4,507.8 L304.6,507.8 L305.8,507.9 L307.1,507.9 L308.3,507.9 L309.6,507.9 L310.8,508.0 L312.0,508.0 L313.3,508.0 L314.5,508.0 L315.8,508.0 L317.0,508.0 L318.2,508.0 L319.5,508.0 L320.7,508.0 L322.0,508.0 L323.2,508.0 L324.5,508.0 L325.7,508.0 L327.0,508.0 L328.2,508.0 L329.5,508.0 L330.7,507.9 L332.0,507.9 L333.2,507.9 L334.5,507.9 L335.7,507.8 L337.0,507.8" stroke="#ff0000" stroke-width="1" fill="none" shape-rendering="crispEdges"/>
<path d="M35.5,239.1 L36.8,239.3 L38.1,239.5 L39.4,239.6 L40.6,239.7 L41.9,239.7 L43.2,239.7 L44.4,239.7 L45.7,239.6 L46.9,239.5 L48.1,239.4 L49.3,239.3 L50.6,239.1 L51.8,238.9 L53.0,238.6 L54.2,238.4 L55.4,238.1 L56.6,237.8 L57.8,237.5 L59.0,237.2 L60.2,236.8 L61.4,236.4 L62.5,236.1 L63.7,235.7 L64.9,235.2 L66.1,234.8 L67.2,234.4 L68.4,234.0 L69.6,233.5 L70.7,233.1 L71.9,232.6 L73.1,232.2 L74.2,231.7 L75.4,231.2 L76.5,230.8 L77.7,230.3 L78.9,229.9 L80.0,229.4 L81.2,229.0 L82.4,228.6 L83.5,228.2 L84.7,227.8 L85.9,227.4 L87.0,227.0 L88.2,226.6 L89.4,226.3 L90.6,225.9 L91.8,225.6 L93.0,225.3 L94.2,225.1 L95.4,224.8 L96.6,224.6 L97.8,224.4 L99.1,224.2 L100.3,224.1 L101.6,224.0 L102.8,223.9 L104.1,223.8 L105.3,223.8 L106.6,223.8 L107.9,223.9 L109.2,223.9 L110.5,224.0 L111.8,224.0 L113.1,224.1 L114.3,224.1 L115.6,224.1 L116.9,224.1 L118.1,224.0 L119.4,223.9 L120.6,223.8 L121.8,223.6 L123.0,223.3 L124.1,223.0 L125.3,222.6 L126.4,222.1 L127.5,221.6 L128.6,220.9 L129.6,220.3 L130.6,219.5 L131.6,218.7 L132.5,217.9 L133.4,217.0 L134.3,216.2 L135.1,215.2 L136.0,214.3 L136.7,213.3 L137.5,212.3 L138.2,211.3 L138.9,210.3 L139.5,209.3 L140.1,208.2 L140.7,207.2 L141.3,206.1 L141.8,205.0 L142.4,203.8 L142.9,202.7 L143.4,201.6 L143.8,200.4 L144.3,199.3 L144.7,198.1 L145.1,196.9 L145.5,195.7 L145.9,194.5 L146.2,193.3 L146.6,192.1 L146.9,190.9 L147.3,189.7 L147.6,188.5 L147.9,187.2 L148.2,186.0 L148.6,184.8 L148.9,183.6 L149.2,182.4 L149.5,181.1 L149.8,179.9 L150.1,178.7 L150.4,177.5 L150.7,176.3 L150.9,175.0 L151.2,173.8 L151.5,172.6 L151.8,171.4 L152.1,170.2 L152.3,169.0 L152.6,167.7 L152.9,166.5 L153.1,165.3 L153.4,164.1 L153.7,162.9 L153.9,161.6 L154.2,160.4 L154.4,159.2 L154.7,158.0 L154.9,156.8 L155.2,155.6 L155.4,154.3 L155.6,153.1 L155.9,151.9 L156.1,150.7 L156.4,149.5 L156.6,148.2 L156.8,147.0 L157.1,145.8 L157.3,144.6 L157.5,143.4 L157.7,142.1 L158.0,140.9 L158.2,139.7 L158.4,138.5 L158.6,137.3 L158.8,136.0 L159.1,134.8 L159.3,133.6 L159.5,132.4 L159.7,131.1 L159.9,129.9 L160.1,128.7 L160.3,127.5 L160.5,126.2 L160.7,125.0 L160.9,123.8 L161.1,122.6 L161.3,121.3 L161.6,120.1 L161.8,118.9 L162.0,117.6 L162.2,116.4 L162.4,115.2 L162.6,113.9 L162.8,112.7 L163.0,111.5 L163.2,110.2 L163.3,109.0 L163.5,107.7 L163.7,106.5 L163.9,105.3 L164.1,104.0 L164.3,102.8 L164.5,101.5 L164.7,100.3 L164.9,99.1 L165.1,97.8 L165.3,96.6 L165.5,95.3 L165.7,94.1 L165.9,92.8 L166.1,91.6 L166.3,90.3 L166.5,89.1 L166.7,87.8 L166.9,86.6 L167.1,85.3 L167.3,84.1 L167.5,82.9 L167.6,81.6 L167.8,80.4 L168.0,79.2 L168.2,77.9 L168.4,76.7 L168.6,75.5 L168.8,74.2 L168.9,73.0 L169.1,71.8 L169.3,70.6 L169.5,69.4 L169.6,68.1 L169.8,66.9 L170.0,65.7 L170.2,64.5 L170.3,63.3 L170.5,62.1 L170.7,61.0 L170.8,59.8 L171.0,58.6 L171.1,57.4 L171.3,56.2 L171.5,55.0 L171.7,53.9 L171.9,52.7 L172.1,51.4 L172.3,50.2 L172.5,49.0 L172.8,47.7 L173.1,46.4 L173.4,45.1 L173.8,43.8 L174.1,42.4 L174.5,41.0 L175.0,39.5 L175.5,38.1 L176.0,36.7 L176.5,35.3 L177.1,33.9 L177.7,32.7 L178.3,31.6 L179.0,30.7 L179.6,30.1 L180.3,29.7 L180.9,29.6 L181.5,29.9 L182.1,30.5 L182.7,31.4 L183.2,32.4 L183.8,33.7 L184.3,35.1 L184.8,36.6 L185.2,38.1 L185.6,39.7 L186.0,41.2 L186.3,42.6 L186.6,44.0 L186.9,45.3 L187.2,46.5 L187.4,47.7 L187.6,48.9 L187.9,50.1 L188.1,51.2 L188.3,52.4 L188.6,53.6 L188.8,54.8 L189.0,56.0 L189.2,57.2 L189.5,58.3 L189.7,59.5 L189.9,60.7 L190.2,61.9 L190.4,63.1 L190.6,64.4 L190.8,65.6 L191.1,66.8 L191.3,68.0 L191.5,69.2 L191.7,70.4 L191.9,71.7 L192.1,72.9 L192.4,74.1 L192.6,75.3 L192.8,76.6 L193.0,77.8 L193.2,79.1 L193.4,80.3 L193.6,81.5 L193.8,82.8 L194.0,84.0 L194.1,85.3 L194.3,86.5 L194.5,87.8 L194.7,89.0 L194.9,90.2 L195.1,91.5 L195.3,92.7 L195.5,94.0 L195.7,95.2 L195.8,96.5 L196.0,97.7 L196.2,99.0 L196.4,100.2 L196.6,101.5 L196.8,102.7 L197.0,104.0 L197.1,105.2 L197.3,106.5 L197.5,107.7 L197.7,108.9 L197.9,110.2 L198.1,111.4 L198.3,112.7 L198.5,113.9 L198.7,115.1 L198.8,116.4 L199.0,117.6 L199.2,118.8 L199.4,120.0 L199.6,121.3 L199.8,122.5 L200.0,123.7 L200.2,125.0 L200.4,126.2 L200.6,127.4 L200.8,128.6 L201.0,129.8 L201.2,131.1 L201.5,132.3 L201.7,133.5 L201.9,134.7 L202.1,135.9 L202.3,137.1 L202.5,138.4 L202.7,139.6 L202.9,140.8 L203.2,142.0 L203.4,143.2 L203.6,144.4 L203.8,145.6 L204.1,146.8 L204.3,148.1 L204.5,149.3 L204.7,150.5 L205.0,151.7 L205.2,152.9 L205.4,154.1 L205.7,155.3 L205.9,156.6 L206.2,157.8 L206.4,159.0 L206.6,160.2 L206.9,161.4 L207.1,162.6 L207.4,163.8 L207.6,165.1 L207.9,166.3 L208.1,167.5 L208.4,168.7 L208.7,169.9 L208.9,171.2 L209.2,172.4 L209.4,173.6 L209.7,174.8 L210.0,176.0 L210.3,177.3 L210.5,178.5 L210.8,179.7 L211.1,181.0 L211.4,182.2 L211.6,183.4 L211.9,184.7 L212.2,185.9 L212.5,187.1 L212.8,188.4 L213.1,189.6 L213.4,190.8 L213.7,192.1 L214.0,193.3 L214.3,194.6 L214.6,195.8 L214.9,197.1 L215.2,198.3 L215.5,199.6 L215.9,200.8 L216.2,202.1 L216.5,203.3 L216.9,204.5 L217.2,205.8 L217.6,207.0 L218.0,208.2 L218.4,209.4 L218.8,210.6 L219.3,211.8 L219.7,212.9 L220.2,214.1 L220.7,215.2 L221.2,216.3 L221.7,217.4 L222.2,218.5 L222.8,219.6 L223.4,220.7 L224.0,221.7 L224.7,222.7 L225.3,223.7 L226.0,224.6 L226.8,225.6 L227.5,226.5 L228.3,227.3 L229.2,228.2 L230.0,229.0 L230.9,229.8 L231.8,230.6 L232.8,231.3 L233.7,232.0 L234.7,232.7 L235.8,233.4 L236.8,234.0 L237.9,234.6 L239.0,235.2 L240.1,235.8 L241.2,236.3 L242.3,236.8 L243.5,237.3 L244.7,237.8 L245.9,238.2 L247.0,238.7 L248.3,239.1 L249.5,239.5 L250.7,239.9 L251.9,240.2 L253.1,240.5 L254.4,240.9 L255.6,241.1 L256.8,241.4 L258.1,241.7 L259.3,241.9 L260.5,242.2 L261.8,242.4 L263.0,242.6 L264.2,242.8 L265.5,243.0 L266.7,243.1 L267.9,243.3 L269.2,243.4 L270.4,243.5 L271.7,243.6 L272.9,243.7 L274.1,243.8 L275.4,243.9 L276.6,244.0 L277.9,244.0 L279.1,244.1 L280.4,244.1 L281.6,244.1 L282.8,244.2 L284.1,244.2 L285.3,244.2 L286.6,244.2 L287.8,244.2 L289.1,244.2 L290.3,244.2 L291.6,244.2 L292.8,244.2 L294.0,244.1 L295.3,244.1 L296.5,244.1 L297.8,244.1 L299.0,244.0 L300.3,244.0 L301.5,244.0 L302.8,243.9 L304.0,243.9 L305.3,243.8 L306.5,243.8 L307.8,243.8 L309.0,243.7 L310.3,243.7 L311.5,243.7 L312.8,243.7 L314.0,243.7 L315.3,243.6 L316.5,243.6 L317.8,243.6 L319.0,243.6 L320.3,243.6 L321.5,243.6 L322.8,243.7 L324.0,243.7 L325.3,243.7 L326.5,243.8 L327.8,243.8 L329.0,243.9 L330.3,243.9 L331.5,244.0 L332.8,244.1 L334.0,244.2" stroke="#000000" stroke-width="1" fill="none" shape-rendering="crispEdges"/>
<path d="M38.5,496.3 L39.7,496.0 L40.9,495.8 L42.2,495.7 L43.4,495.6 L44.6,495.5 L45.9,495.5 L47.1,495.5 L48.4,495.5 L49.6,495.5 L50.9,495.6 L52.1,495.7 L53.4,495.8 L54.7,496.0 L56.0,496.1 L57.2,496.2 L58.5,496.4 L59.8,496.5 L61.0,496.7 L62.3,496.8 L63.6,496.9 L64.8,497.1 L66.1,497.2 L67.4,497.2 L68.6,497.3 L69.9,497.3 L71.1,497.3 L72.4,497.3 L73.6,497.2 L74.8,497.1 L76.0,497.0 L77.2,496.8 L78.4,496.6 L79.6,496.3 L80.8,495.9 L82.0,495.5 L83.2,495.1 L84.3,494.7 L85.5,494.2 L86.7,493.7 L87.8,493.2 L89.0,492.7 L90.1,492.2 L91.3,491.7 L92.5,491.2 L93.6,490.8 L94.8,490.4 L96.0,490.0 L97.1,489.6 L98.3,489.3 L99.5,489.0 L100.7,488.8 L101.9,488.7 L103.2,488.7 L104.4,488.7 L105.7,488.8 L106.9,488.9 L108.2,489.1 L109.5,489.4 L110.7,489.6 L112.0,489.8 L113.2,490.0 L114.5,490.2 L115.7,490.3 L116.9,490.3 L118.1,490.2 L119.3,490.0 L120.4,489.7 L121.5,489.3 L122.6,488.7 L123.6,488.0 L124.6,487.3 L125.6,486.5 L126.5,485.6 L127.3,484.7 L128.2,483.7 L128.9,482.7 L129.7,481.7 L130.3,480.7 L131.0,479.7 L131.6,478.6 L132.2,477.5 L132.7,476.4 L133.2,475.3 L133.7,474.1 L134.1,473.0 L134.5,471.8 L135.0,470.7 L135.3,469.5 L135.7,468.3 L136.1,467.1 L136.4,465.9 L136.7,464.6 L137.0,463.4 L137.4,462.2 L137.7,461.0 L138.0,459.7 L138.3,458.5 L138.6,457.3 L138.9,456.0 L139.2,454.8 L139.6,453.6 L139.9,452.4 L140.2,451.1 L140.6,449.9 L140.9,448.7 L141.2,447.5 L141.6,446.3 L141.9,445.1 L142.2,443.8 L142.6,442.6 L142.9,441.4 L143.2,440.2 L143.5,439.0 L143.9,437.8 L144.2,436.6 L144.5,435.4 L144.8,434.2 L145.1,433.0 L145.4,431.8 L145.6,430.6 L145.9,429.4 L146.2,428.3 L146.4,427.1 L146.6,425.9 L146.9,424.7 L147.1,423.5 L147.3,422.3 L147.5,421.1 L147.7,419.9 L147.9,418.7 L148.1,417.5 L148.4,416.3 L148.6,415.0 L148.9,413.8 L149.2,412.5 L149.5,411.1 L149.8,409.8 L150.2,408.4 L150.6,407.0 L151.1,405.6 L151.6,404.2 L152.2,403.0 L152.9,401.8 L153.7,400.8 L154.5,400.0 L155.3,399.4 L156.1,399.2 L156.9,399.3 L157.6,399.7 L158.3,400.5 L158.9,401.5 L159.5,402.7 L160.1,404.0 L160.6,405.4 L161.0,406.9 L161.4,408.4 L161.8,409.8 L162.1,411.1 L162.5,412.4 L162.8,413.7 L163.0,414.9 L163.3,416.1 L163.6,417.3 L163.9,418.5 L164.1,419.7 L164.4,420.8 L164.7,422.0 L165.0,423.2 L165.3,424.4 L165.6,425.6 L165.9,426.8 L166.3,427.9 L166.6,429.1 L166.9,430.3 L167.2,431.5 L167.5,432.7 L167.9,433.9 L168.2,435.2 L168.5,436.4 L168.8,437.6 L169.1,438.8 L169.4,440.0 L169.7,441.2 L170.0,442.5 L170.3,443.7 L170.5,444.9 L170.8,446.1 L171.0,447.4 L171.3,448.6 L171.5,449.9 L171.7,451.1 L171.9,452.4 L172.1,453.6 L172.3,454.9 L172.5,456.1 L172.7,457.4 L172.8,458.6 L173.0,459.8 L173.2,461.1 L173.5,462.3 L173.7,463.6 L173.9,464.8 L174.2,466.0 L174.4,467.2 L174.7,468.5 L175.0,469.7 L175.3,470.9 L175.7,472.0 L176.1,473.2 L176.5,474.4 L176.9,475.6 L177.4,476.7 L177.9,477.8 L178.5,479.0 L179.0,480.1 L179.7,481.2 L180.3,482.3 L181.1,483.3 L181.8,484.4 L182.6,485.3 L183.5,486.2 L184.4,486.9 L185.3,487.5 L186.3,487.8 L187.2,487.9 L188.3,487.8 L189.3,487.4 L190.3,486.9 L191.3,486.1 L192.3,485.2 L193.3,484.2 L194.3,483.1 L195.2,481.9 L196.0,480.7 L196.7,479.5 L197.4,478.3 L198.0,477.2 L198.5,476.0 L198.9,474.9 L199.3,473.8 L199.7,472.7 L200.1,471.7 L200.4,470.6 L200.7,469.5 L201.1,468.3 L201.5,467.2 L201.9,466.0 L202.3,464.8 L202.8,463.5 L203.4,462.3 L203.9,461.0 L204.6,459.6 L205.2,458.3 L205.9,457.1 L206.7,456.0 L207.5,455.0 L208.2,454.3 L209.0,453.7 L209.8,453.5 L210.5,453.6 L211.2,454.0 L211.9,454.7 L212.5,455.6 L213.1,456.7 L213.7,457.8 L214.2,458.9 L214.8,460.1 L215.3,461.2 L215.9,462.4 L216.4,463.5 L216.9,464.7 L217.5,465.8 L218.0,467.0 L218.5,468.1 L219.0,469.3 L219.4,470.5 L219.9,471.7 L220.4,472.9 L220.9,474.1 L221.3,475.3 L221.8,476.5 L222.3,477.7 L222.7,478.9 L223.2,480.1 L223.7,481.3 L224.2,482.4 L224.8,483.6 L225.3,484.7 L225.9,485.8 L226.5,486.9 L227.1,488.0 L227.8,489.0 L228.5,490.0 L229.2,491.0 L230.0,492.0 L230.8,492.9 L231.6,493.7 L232.5,494.6 L233.4,495.3 L234.4,496.1 L235.4,496.8 L236.4,497.5 L237.4,498.2 L238.5,498.8 L239.5,499.4 L240.6,500.0 L241.7,500.5 L242.9,501.0 L244.0,501.5 L245.2,501.9 L246.3,502.4 L247.5,502.8 L248.7,503.2 L249.8,503.5 L251.0,503.8 L252.2,504.1 L253.4,504.4 L254.7,504.7 L255.9,505.0 L257.1,505.2 L258.3,505.4 L259.6,505.6 L260.8,505.8 L262.1,506.0 L263.3,506.1 L264.6,506.3 L265.8,506.4 L267.1,506.6 L268.3,506.7 L269.6,506.8 L270.8,506.9 L272.1,507.0 L273.3,507.1 L274.6,507.2 L275.9,507.3 L277.1,507.4 L278.4,507.5 L279.6,507.6 L280.9,507.7 L282.1,507.8 L283.4,507.9 L284.6,508.0 L285.9,508.1 L287.1,508.2 L288.4,508.3 L289.6,508.4 L290.9,508.4 L292.1,508.5 L293.3,508.6 L294.6,508.7 L295.8,508.8 L297.1,508.8 L298.3,508.9 L299.6,509.0 L300.8,509.0 L302.0,509.1 L303.3,509.2 L304.5,509.2 L305.8,509.3 L307.0,509.3 L308.2,509.4 L309.5,509.4 L310.7,509.5 L312.0,509.5 L313.2,509.5 L314.5,509.6 L315.7,509.6 L316.9,509.6 L318.2,509.7 L319.4,509.7 L320.7,509.7 L321.9,509.7 L323.2,509.7 L324.4,509.7 L325.7,509.7 L326.9,509.7 L328.2,509.7 L329.4,509.7 L330.7,509.7 L332.0,509.6 L333.2,509.6 L334.5,509.6 L335.7,509.5 L337.0,509.5" stroke="#000000" stroke-width="1" fill="none" shape-rendering="crispEdges"/>
<path d="M35.5,238.5 L36.8,238.5 L38.1,238.5 L39.4,238.5 L40.6,238.3 L41.9,238.2 L43.1,238.0 L44.3,237.8 L45.5,237.5 L46.7,237.2 L47.9,236.9 L49.1,236.5 L50.2,236.1 L51.4,235.7 L52.5,235.3 L53.7,234.8 L54.8,234.4 L56.0,233.9 L57.1,233.4 L58.2,232.9 L59.4,232.4 L60.5,231.9 L61.6,231.4 L62.8,231.0 L63.9,230.5 L65.0,230.0 L66.2,229.5 L67.4,229.1 L68.5,228.7 L69.7,228.3 L70.9,227.9 L72.1,227.5 L73.3,227.2 L74.5,226.9 L75.7,226.6 L77.0,226.4 L78.3,226.2 L79.5,226.0 L80.8,225.9 L82.1,225.7 L83.4,225.6 L84.7,225.5 L85.9,225.4 L87.2,225.3 L88.5,225.1 L89.8,225.0 L91.0,224.8 L92.2,224.7 L93.5,224.5 L94.7,224.2 L95.8,224.0 L97.0,223.7 L98.1,223.3 L99.2,222.9 L100.3,222.5 L101.3,221.9 L102.3,221.4 L103.3,220.7 L104.2,220.0 L105.1,219.3 L106.0,218.5 L106.8,217.7 L107.6,216.8 L108.4,215.9 L109.2,214.9 L109.9,213.9 L110.6,212.9 L111.3,211.8 L111.9,210.7 L112.6,209.6 L113.2,208.4 L113.8,207.3 L114.3,206.1 L114.9,204.9 L115.4,203.7 L116.0,202.5 L116.5,201.3 L117.0,200.1 L117.4,198.8 L117.9,197.6 L118.4,196.4 L118.8,195.2 L119.3,194.0 L119.7,192.8 L120.1,191.6 L120.5,190.4 L120.9,189.2 L121.3,188.0 L121.7,186.8 L122.1,185.7 L122.5,184.5 L122.8,183.3 L123.2,182.2 L123.5,181.0 L123.9,179.8 L124.2,178.6 L124.5,177.5 L124.8,176.3 L125.1,175.1 L125.4,174.0 L125.8,172.8 L126.0,171.6 L126.3,170.4 L126.6,169.2 L126.9,168.1 L127.2,166.9 L127.5,165.7 L127.7,164.5 L128.0,163.3 L128.3,162.1 L128.5,160.9 L128.8,159.6 L129.0,158.4 L129.3,157.2 L129.5,156.0 L129.8,154.8 L130.0,153.5 L130.3,152.3 L130.5,151.1 L130.7,149.9 L131.0,148.6 L131.2,147.4 L131.4,146.2 L131.6,144.9 L131.9,143.7 L132.1,142.4 L132.3,141.2 L132.5,140.0 L132.7,138.7 L132.9,137.5 L133.2,136.2 L133.4,135.0 L133.6,133.7 L133.8,132.5 L134.0,131.2 L134.2,130.0 L134.4,128.7 L134.6,127.5 L134.8,126.2 L135.1,125.0 L135.3,123.7 L135.5,122.5 L135.7,121.3 L135.9,120.0 L136.1,118.8 L136.3,117.5 L136.5,116.3 L136.7,115.1 L136.9,113.8 L137.2,112.6 L137.4,111.4 L137.6,110.1 L137.8,108.9 L138.0,107.7 L138.3,106.4 L138.5,105.2 L138.7,104.0 L138.9,102.8 L139.2,101.6 L139.4,100.4 L139.6,99.2 L139.9,98.0 L140.1,96.8 L140.4,95.6 L140.6,94.4 L140.9,93.2 L141.1,92.0 L141.4,90.8 L141.6,89.6 L141.9,88.4 L142.1,87.3 L142.4,86.1 L142.7,84.9 L142.9,83.7 L143.2,82.5 L143.4,81.3 L143.7,80.1 L144.0,78.9 L144.2,77.6 L144.5,76.4 L144.7,75.1 L145.0,73.8 L145.2,72.5 L145.5,71.2 L145.8,69.8 L146.1,68.4 L146.4,66.9 L146.8,65.4 L147.2,63.9 L147.6,62.5 L148.1,61.1 L148.7,59.7 L149.3,58.5 L149.9,57.4 L150.6,56.5 L151.4,55.7 L152.1,55.1 L152.9,54.8 L153.7,54.7 L154.5,54.9 L155.3,55.3 L156.0,56.0 L156.8,56.8 L157.5,57.8 L158.2,58.8 L158.8,60.0 L159.4,61.1 L159.9,62.3 L160.4,63.6 L160.8,64.8 L161.2,66.1 L161.6,67.4 L161.9,68.7 L162.3,70.0 L162.6,71.4 L162.8,72.7 L163.1,74.0 L163.4,75.4 L163.6,76.7 L163.9,78.0 L164.2,79.3 L164.4,80.6 L164.7,81.9 L165.0,83.1 L165.2,84.4 L165.5,85.7 L165.7,86.9 L166.0,88.1 L166.3,89.4 L166.5,90.6 L166.8,91.8 L167.1,93.0 L167.3,94.3 L167.6,95.5 L167.9,96.7 L168.1,97.9 L168.4,99.1 L168.7,100.3 L168.9,101.4 L169.2,102.6 L169.4,103.8 L169.7,105.0 L170.0,106.2 L170.2,107.4 L170.5,108.6 L170.7,109.8 L171.0,110.9 L171.3,112.1 L171.5,113.3 L171.8,114.5 L172.0,115.7 L172.3,116.9 L172.5,118.1 L172.8,119.3 L173.0,120.6 L173.3,121.8 L173.5,123.0 L173.8,124.2 L174.0,125.4 L174.3,126.7 L174.5,127.9 L174.8,129.1 L175.0,130.4 L175.3,131.6 L175.5,132.8 L175.7,134.1 L176.0,135.3 L176.2,136.5 L176.5,137.8 L176.7,139.0 L177.0,140.3 L177.2,141.5 L177.4,142.8 L177.7,144.0 L177.9,145.2 L178.2,146.5 L178.4,147.7 L178.7,148.9 L178.9,150.2 L179.2,151.4 L179.4,152.7 L179.6,153.9 L179.9,155.1 L180.1,156.3 L180.4,157.6 L180.6,158.8 L180.9,160.0 L181.2,161.2 L181.4,162.5 L181.7,163.7 L181.9,164.9 L182.2,166.1 L182.5,167.3 L182.7,168.6 L183.0,169.8 L183.3,171.0 L183.6,172.2 L183.9,173.4 L184.2,174.6 L184.4,175.8 L184.7,177.0 L185.0,178.2 L185.4,179.4 L185.7,180.6 L186.0,181.8 L186.3,183.0 L186.6,184.2 L187.0,185.4 L187.3,186.6 L187.7,187.8 L188.0,188.9 L188.4,190.1 L188.7,191.3 L189.1,192.5 L189.5,193.7 L189.9,194.8 L190.3,196.0 L190.7,197.2 L191.1,198.4 L191.5,199.5 L191.9,200.7 L192.3,201.8 L192.8,203.0 L193.2,204.2 L193.7,205.3 L194.1,206.5 L194.6,207.6 L195.1,208.8 L195.6,209.9 L196.1,211.1 L196.6,212.2 L197.1,213.4 L197.7,214.5 L198.2,215.7 L198.8,216.8 L199.3,217.9 L199.9,219.1 L200.5,220.2 L201.1,221.3 L201.7,222.4 L202.3,223.5 L203.0,224.6 L203.7,225.6 L204.4,226.6 L205.1,227.6 L205.9,228.6 L206.6,229.6 L207.4,230.5 L208.3,231.4 L209.1,232.2 L210.0,233.1 L211.0,233.8 L211.9,234.6 L213.0,235.3 L214.0,235.9 L215.1,236.5 L216.2,237.1 L217.3,237.6 L218.5,238.1 L219.6,238.5 L220.8,238.9 L222.0,239.3 L223.2,239.7 L224.5,240.0 L225.7,240.4 L226.9,240.7 L228.1,241.0 L229.3,241.2 L230.6,241.5 L231.8,241.7 L233.0,241.9 L234.2,242.1 L235.5,242.3 L236.7,242.5 L237.9,242.6 L239.2,242.8 L240.4,242.9 L241.7,243.0 L242.9,243.1 L244.1,243.2 L245.4,243.3 L246.6,243.4 L247.9,243.5 L249.1,243.5 L250.4,243.6 L251.6,243.6 L252.8,243.7 L254.1,243.7 L255.3,243.7 L256.6,243.8 L257.8,243.8 L259.1,243.8 L260.3,243.8 L261.6,243.9 L262.8,243.9 L264.1,243.9 L265.3,243.9 L266.6,243.9 L267.8,244.0 L269.1,244.0 L270.3,244.0 L271.6,244.0 L272.8,244.0 L274.1,244.0 L275.3,244.0 L276.6,244.0 L277.8,244.0 L279.1,244.0 L280.3,244.1 L281.6,244.1 L282.8,244.1 L284.1,244.1 L285.3,244.1 L286.6,244.1 L287.8,244.1 L289.1,244.1 L290.3,244.1 L291.6,244.1 L292.8,244.1 L294.0,244.1 L295.3,244.1 L296.5,244.1 L297.8,244.1 L299.0,244.1 L300.3,244.1 L301.5,244.1 L302.8,244.1 L304.0,244.1 L305.3,244.1 L306.5,244.1 L307.8,244.1 L309.0,244.1 L310.3,244.1 L311.5,244.1 L312.8,244.1 L314.0,244.1 L315.3,244.1 L316.5,244.1 L317.8,244.1 L319.0,244.2 L320.3,244.2 L321.5,244.2 L322.8,244.2 L324.0,244.2 L325.3,244.2 L326.5,244.2 L327.8,244.2 L329.0,244.2 L330.3,244.2 L331.5,244.3 L332.8,244.3 L334.0,244.3" stroke="#0000ff" stroke-width="1" fill="none" shape-rendering="crispEdges"/>
<path d="M38.5,509.6 L39.8,509.4 L41.1,509.2 L42.3,508.9 L43.6,508.7 L44.8,508.4 L46.1,508.2 L47.3,507.9 L48.5,507.6 L49.7,507.3 L50.9,507.0 L52.1,506.7 L53.3,506.4 L54.4,506.1 L55.6,505.8 L56.8,505.5 L57.9,505.1 L59.1,504.8 L60.3,504.5 L61.5,504.2 L62.6,503.9 L63.8,503.6 L65.0,503.3 L66.2,503.0 L67.4,502.8 L68.6,502.5 L69.8,502.2 L71.0,502.0 L72.2,501.8 L73.4,501.6 L74.7,501.4 L75.9,501.2 L77.2,501.1 L78.5,500.9 L79.8,500.8 L81.1,500.7 L82.4,500.6 L83.7,500.5 L85.0,500.4 L86.4,500.4 L87.7,500.3 L89.0,500.2 L90.3,500.1 L91.6,500.0 L92.9,499.9 L94.2,499.8 L95.4,499.6 L96.7,499.4 L97.9,499.2 L99.1,499.0 L100.3,498.7 L101.5,498.4 L102.6,498.1 L103.7,497.7 L104.8,497.2 L105.8,496.8 L106.8,496.2 L107.7,495.6 L108.7,495.0 L109.5,494.3 L110.4,493.6 L111.2,492.8 L112.0,492.0 L112.7,491.1 L113.5,490.2 L114.1,489.2 L114.8,488.3 L115.5,487.2 L116.1,486.2 L116.6,485.1 L117.2,484.0 L117.8,482.9 L118.3,481.8 L118.8,480.6 L119.3,479.4 L119.7,478.2 L120.2,477.0 L120.6,475.8 L121.0,474.5 L121.4,473.3 L121.8,472.0 L122.2,470.8 L122.5,469.5 L122.9,468.2 L123.3,467.0 L123.6,465.7 L123.9,464.5 L124.3,463.2 L124.6,462.0 L124.9,460.8 L125.3,459.5 L125.6,458.3 L125.9,457.2 L126.2,456.0 L126.6,454.8 L126.9,453.7 L127.2,452.5 L127.5,451.4 L127.8,450.2 L128.1,449.1 L128.4,447.9 L128.7,446.7 L129.0,445.6 L129.3,444.4 L129.6,443.2 L129.9,442.0 L130.2,440.8 L130.4,439.6 L130.7,438.3 L131.0,437.0 L131.2,435.8 L131.5,434.5 L131.7,433.2 L132.0,431.9 L132.3,430.6 L132.5,429.4 L132.8,428.1 L133.1,426.9 L133.4,425.7 L133.7,424.5 L134.0,423.4 L134.3,422.2 L134.6,421.1 L134.9,419.9 L135.2,418.8 L135.4,417.6 L135.7,416.4 L135.9,415.2 L136.2,414.0 L136.5,412.7 L136.8,411.4 L137.2,410.1 L137.7,408.7 L138.3,407.4 L138.9,406.0 L139.7,404.9 L140.4,404.0 L141.3,403.6 L142.2,403.6 L143.0,404.2 L143.9,405.1 L144.6,406.2 L145.3,407.4 L145.8,408.6 L146.3,409.8 L146.7,411.1 L147.0,412.3 L147.3,413.6 L147.5,414.8 L147.8,416.1 L148.0,417.4 L148.3,418.6 L148.5,419.9 L148.8,421.1 L149.1,422.3 L149.4,423.5 L149.7,424.7 L150.0,425.9 L150.3,427.1 L150.7,428.3 L151.0,429.5 L151.3,430.7 L151.7,431.9 L152.0,433.1 L152.4,434.2 L152.7,435.4 L153.0,436.6 L153.4,437.8 L153.7,439.0 L154.0,440.2 L154.3,441.4 L154.6,442.6 L154.9,443.8 L155.1,445.0 L155.4,446.2 L155.6,447.5 L155.9,448.7 L156.1,450.0 L156.3,451.2 L156.6,452.4 L156.8,453.7 L157.0,454.9 L157.2,456.2 L157.4,457.4 L157.6,458.7 L157.8,459.9 L158.1,461.2 L158.3,462.4 L158.5,463.7 L158.8,464.9 L159.0,466.2 L159.3,467.4 L159.6,468.6 L159.8,469.8 L160.1,471.0 L160.4,472.2 L160.8,473.4 L161.1,474.6 L161.5,475.8 L161.9,477.0 L162.3,478.1 L162.7,479.3 L163.2,480.4 L163.7,481.6 L164.2,482.7 L164.7,483.8 L165.3,484.8 L165.9,485.9 L166.5,487.0 L167.2,488.0 L167.9,489.0 L168.6,490.0 L169.3,491.0 L170.2,492.0 L171.0,492.9 L171.9,493.9 L172.8,494.8 L173.8,495.6 L174.8,496.4 L175.8,497.0 L176.9,497.4 L178.0,497.3 L179.1,497.0 L180.2,496.5 L181.3,495.8 L182.5,495.1 L183.7,494.4 L184.9,493.7 L186.1,493.0 L187.3,492.4 L188.6,491.9 L189.8,491.4 L190.9,491.1 L192.1,490.9 L193.2,490.8 L194.3,491.0 L195.4,491.3 L196.4,491.8 L197.5,492.3 L198.5,493.0 L199.4,493.8 L200.4,494.6 L201.4,495.5 L202.4,496.3 L203.4,497.2 L204.4,498.0 L205.4,498.8 L206.4,499.6 L207.4,500.4 L208.5,501.1 L209.5,501.8 L210.6,502.5 L211.7,503.1 L212.7,503.8 L213.8,504.4 L214.9,505.0 L216.0,505.5 L217.1,506.0 L218.2,506.5 L219.4,507.0 L220.5,507.5 L221.7,507.9 L222.8,508.3 L224.0,508.7 L225.1,509.1 L226.3,509.4 L227.5,509.8 L228.6,510.1 L229.8,510.4 L231.0,510.6 L232.2,510.9 L233.4,511.1 L234.6,511.3 L235.9,511.5 L237.1,511.7 L238.3,511.9 L239.5,512.1 L240.8,512.2 L242.0,512.3 L243.2,512.5 L244.5,512.6 L245.7,512.7 L247.0,512.8 L248.2,512.8 L249.5,512.9 L250.7,513.0 L252.0,513.0 L253.2,513.1 L254.5,513.1 L255.8,513.1 L257.0,513.2 L258.3,513.2 L259.5,513.2 L260.8,513.2 L262.1,513.2 L263.3,513.2 L264.6,513.2 L265.9,513.2 L267.1,513.2 L268.4,513.2 L269.7,513.3 L270.9,513.3 L272.2,513.3 L273.4,513.3 L274.7,513.3 L275.9,513.3 L277.2,513.3 L278.4,513.3 L279.7,513.3 L280.9,513.4 L282.2,513.4 L283.4,513.4 L284.7,513.4 L285.9,513.5 L287.2,513.5 L288.4,513.5 L289.7,513.5 L290.9,513.6 L292.1,513.6 L293.4,513.6 L294.6,513.7 L295.9,513.7 L297.1,513.7 L298.3,513.7 L299.6,513.8 L300.8,513.8 L302.1,513.8 L303.3,513.9 L304.5,513.9 L305.8,513.9 L307.0,514.0 L308.2,514.0 L309.5,514.0 L310.7,514.0 L312.0,514.1 L313.2,514.1 L314.5,514.1 L315.7,514.1 L316.9,514.2 L318.2,514.2 L319.4,514.2 L320.7,514.2 L321.9,514.2 L323.2,514.3 L324.4,514.3 L325.7,514.3 L326.9,514.3 L328.2,514.3 L329.4,514.3 L330.7,514.3 L332.0,514.3 L333.2,514.3 L334.5,514.3 L335.7,514.3 L337.0,514.3" stroke="#0000ff" stroke-width="1" fill="none" shape-rendering="crispEdges"/>
<rect x="35.5" y="11.5" width="299" height="234" fill="none" stroke="#000" stroke-width="1" shape-rendering="crispEdges"/>
<text transform="translate(35.50,257.80) scale(0.850,1)" text-anchor="middle" class="n">390</text>
<text transform="translate(72.88,257.80) scale(0.850,1)" text-anchor="middle" class="n">400</text>
<text transform="translate(110.25,257.80) scale(0.850,1)" text-anchor="middle" class="n">410</text>
<text transform="translate(147.62,257.80) scale(0.850,1)" text-anchor="middle" class="n">420</text>
<text transform="translate(185.00,257.80) scale(0.850,1)" text-anchor="middle" class="n">430</text>
<text transform="translate(222.38,257.80) scale(0.850,1)" text-anchor="middle" class="n">440</text>
<text transform="translate(259.75,257.80) scale(0.850,1)" text-anchor="middle" class="n">450</text>
<text transform="translate(297.12,257.80) scale(0.850,1)" text-anchor="middle" class="n">460</text>
<text transform="translate(334.50,257.80) scale(0.850,1)" text-anchor="middle" class="n">470</text>
<text transform="translate(33.00,248.40) scale(0.850,1)" text-anchor="end" class="n">0</text>
<text transform="translate(33.00,214.97) scale(0.850,1)" text-anchor="end" class="n">0.2</text>
<text transform="translate(33.00,181.54) scale(0.850,1)" text-anchor="end" class="n">0.4</text>
<text transform="translate(33.00,148.11) scale(0.850,1)" text-anchor="end" class="n">0.6</text>
<text transform="translate(33.00,114.69) scale(0.850,1)" text-anchor="end" class="n">0.8</text>
<text transform="translate(33.00,81.26) scale(0.850,1)" text-anchor="end" class="n">1.0</text>
<text transform="translate(33.00,47.83) scale(0.850,1)" text-anchor="end" class="n">1.2</text>
<text transform="translate(33.00,14.40) scale(0.850,1)" text-anchor="end" class="n">1.4</text>
<rect x="38.5" y="281.5" width="299" height="234" fill="none" stroke="#000" stroke-width="1" shape-rendering="crispEdges"/>
<text transform="translate(38.50,527.80) scale(0.850,1)" text-anchor="middle" class="n">470</text>
<text transform="translate(64.50,527.80) scale(0.850,1)" text-anchor="middle" class="n">490</text>
<text transform="translate(90.50,527.80) scale(0.850,1)" text-anchor="middle" class="n">510</text>
<text transform="translate(116.50,527.80) scale(0.850,1)" text-anchor="middle" class="n">530</text>
<text transform="translate(142.50,527.80) scale(0.850,1)" text-anchor="middle" class="n">550</text>
<text transform="translate(168.50,527.80) scale(0.850,1)" text-anchor="middle" class="n">570</text>
<text transform="translate(194.50,527.80) scale(0.850,1)" text-anchor="middle" class="n">590</text>
<text transform="translate(220.50,527.80) scale(0.850,1)" text-anchor="middle" class="n">610</text>
<text transform="translate(246.50,527.80) scale(0.850,1)" text-anchor="middle" class="n">630</text>
<text transform="translate(272.50,527.80) scale(0.850,1)" text-anchor="middle" class="n">650</text>
<text transform="translate(298.50,527.80) scale(0.850,1)" text-anchor="middle" class="n">670</text>
<text transform="translate(324.50,527.80) scale(0.850,1)" text-anchor="middle" class="n">690</text>
<text transform="translate(36.00,518.40) scale(0.850,1)" text-anchor="end" class="n">0</text>
<text transform="translate(36.00,495.00) scale(0.850,1)" text-anchor="end" class="n">0.01</text>
<text transform="translate(36.00,471.60) scale(0.850,1)" text-anchor="end" class="n">0.02</text>
<text transform="translate(36.00,448.20) scale(0.850,1)" text-anchor="end" class="n">0.03</text>
<text transform="translate(36.00,424.80) scale(0.850,1)" text-anchor="end" class="n">0.04</text>
<text transform="translate(36.00,401.40) scale(0.850,1)" text-anchor="end" class="n">0.05</text>
<text transform="translate(36.00,378.00) scale(0.850,1)" text-anchor="end" class="n">0.06</text>
<text transform="translate(36.00,354.60) scale(0.850,1)" text-anchor="end" class="n">0.07</text>
<text transform="translate(36.00,331.20) scale(0.850,1)" text-anchor="end" class="n">0.08</text>
<text transform="translate(36.00,307.80) scale(0.850,1)" text-anchor="end" class="n">0.09</text>
<text transform="translate(36.00,284.40) scale(0.850,1)" text-anchor="end" class="n">0.10</text>
<line x1="252.0" x2="280.0" y1="28.0" y2="28.0" stroke="#44ffff" stroke-width="1.7"/>
<line x1="252.0" x2="280.0" y1="37.6" y2="37.6" stroke="#ff33ff" stroke-width="1.7"/>
<line x1="252.0" x2="280.0" y1="47.3" y2="47.3" stroke="#33ff33" stroke-width="1.7"/>
<line x1="252.0" x2="280.0" y1="57.7" y2="57.7" stroke="#ff4444" stroke-width="1.7"/>
<line x1="252.0" x2="280.0" y1="67.5" y2="67.5" stroke="#333333" stroke-width="1.3"/>
<line x1="252.0" x2="280.0" y1="78.1" y2="78.1" stroke="#3333ff" stroke-width="1.7"/>
<line x1="258.7" x2="287.2" y1="303.0" y2="303.0" stroke="#44ffff" stroke-width="1.7"/>
<line x1="258.7" x2="287.2" y1="312.6" y2="312.6" stroke="#ff33ff" stroke-width="1.7"/>
<line x1="258.7" x2="287.2" y1="322.3" y2="322.3" stroke="#33ff33" stroke-width="1.7"/>
<line x1="258.7" x2="287.2" y1="332.7" y2="332.7" stroke="#ff4444" stroke-width="1.7"/>
<line x1="258.7" x2="287.2" y1="342.5" y2="342.5" stroke="#333333" stroke-width="1.3"/>
<line x1="258.7" x2="287.2" y1="353.1" y2="353.1" stroke="#3333ff" stroke-width="1.7"/>
<text transform="scale(0.920,1)" x="311.58 318.03 325.10 334.26" y="29.60" class="lg">MeOH</text>
<text transform="scale(0.920,1)" x="312.15 317.00 320.91 329.48" y="39.10" class="lg">EtOH</text>
<text transform="scale(0.920,1)" x="311.85 313.04 316.67 322.05 325.88 330.50 335.59 344.70" y="49.10" class="lg">iso-PrOH</text>
<text transform="scale(0.920,1)" x="312.35 318.75 327.30 333.52" y="59.10" class="lg">DMSO</text>
<text transform="scale(0.920,1)" x="312.35 318.75 327.13" y="69.30" class="lg">DMF</text>
<text transform="scale(0.920,1)" y="79.80" class="lg"><tspan x="312.43 320.79">CH</tspan><tspan x="326.43" y="84.70" style="font-size:6.0px">2</tspan><tspan x="330.25 335.60" y="79.80">Cl</tspan><tspan x="339.85" y="84.70" style="font-size:6.0px">2</tspan></text>
<text transform="scale(0.920,1)" x="319.84 326.29 333.36 342.53" y="304.60" class="lg">MeOH</text>
<text transform="scale(0.920,1)" x="320.41 325.26 329.17 337.74" y="314.10" class="lg">EtOH</text>
<text transform="scale(0.920,1)" x="320.11 321.30 324.93 330.31 334.14 338.77 343.85 352.96" y="324.10" class="lg">iso-PrOH</text>
<text transform="scale(0.920,1)" x="320.61 327.01 335.56 341.78" y="334.10" class="lg">DMSO</text>
<text transform="scale(0.920,1)" x="320.61 327.01 335.39" y="344.30" class="lg">DMF</text>
<text transform="scale(0.920,1)" y="354.80" class="lg"><tspan x="320.69 329.05">CH</tspan><tspan x="334.69" y="359.70" style="font-size:6.0px">2</tspan><tspan x="338.51 343.86" y="354.80">Cl</tspan><tspan x="348.11" y="359.70" style="font-size:6.0px">2</tspan></text>
<text x="172.8" y="272.6" class="t" style="letter-spacing:1.3px">&#955;<tspan dx="1.2">(nm</tspan><tspan dx="1">)</tspan></text>
<text x="177.7" y="541.2" class="t" style="letter-spacing:1.3px">&#955;<tspan dx="1.2">(nm</tspan><tspan dx="1">)</tspan></text>
<text transform="translate(12.6,143) rotate(-90)" text-anchor="middle" class="ab">Abs</text>
<text transform="translate(12.4,405) rotate(-90)" text-anchor="middle" class="ab">Abs</text>
<text x="54" y="41.2" class="big">a</text>
<text x="54" y="311.8" class="big">b</text>
</svg>
</body></html>
